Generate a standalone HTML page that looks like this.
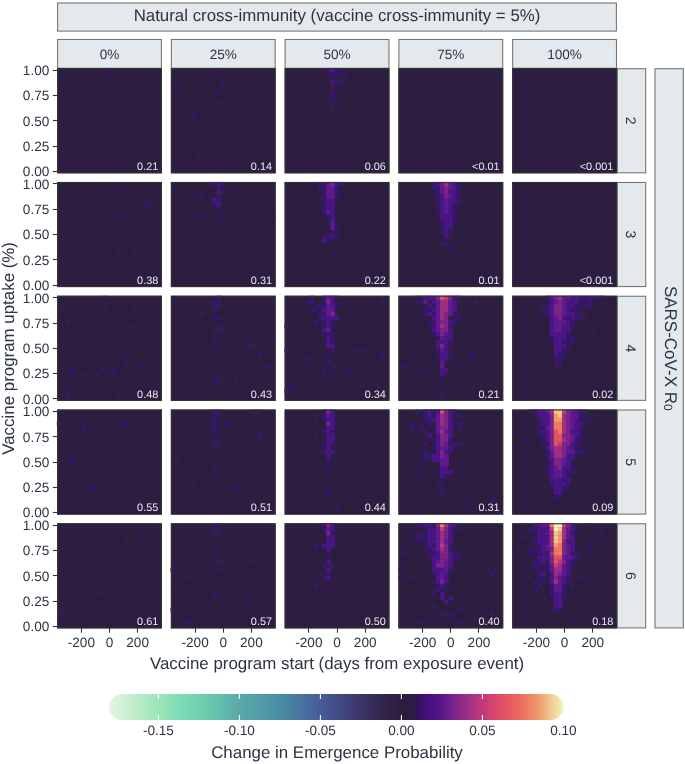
<!DOCTYPE html><html><head><meta charset="utf-8"><style>html,body{margin:0;padding:0;background:#fff;overflow:hidden;}svg{display:block;will-change:transform;}text{font-family:"Liberation Sans",sans-serif;text-rendering:geometricPrecision;}</style></head><body>
<svg width="685" height="764" viewBox="0 0 685 764">
<rect x="0" y="0" width="685" height="764" fill="#fff"/>
<rect x="57.6" y="3.0" width="558.8" height="28.1" fill="#e4e9ee" stroke="#737373" stroke-width="1.07"/>
<text x="337" y="21.2" font-size="16.85" fill="#2b3441" text-anchor="middle">Natural cross-immunity (vaccine cross-immunity = 5%)</text>
<rect x="57.60" y="39.5" width="103.80" height="28.70" fill="#e4e9ee" stroke="#737373" stroke-width="1.07"/>
<text x="109.50" y="59.0" font-size="13.6" fill="#2b3441" text-anchor="middle">0%</text>
<rect x="171.37" y="39.5" width="103.80" height="28.70" fill="#e4e9ee" stroke="#737373" stroke-width="1.07"/>
<text x="223.27" y="59.0" font-size="13.6" fill="#2b3441" text-anchor="middle">25%</text>
<rect x="285.14" y="39.5" width="103.80" height="28.70" fill="#e4e9ee" stroke="#737373" stroke-width="1.07"/>
<text x="337.04" y="59.0" font-size="13.6" fill="#2b3441" text-anchor="middle">50%</text>
<rect x="398.91" y="39.5" width="103.80" height="28.70" fill="#e4e9ee" stroke="#737373" stroke-width="1.07"/>
<text x="450.81" y="59.0" font-size="13.6" fill="#2b3441" text-anchor="middle">75%</text>
<rect x="512.68" y="39.5" width="103.80" height="28.70" fill="#e4e9ee" stroke="#737373" stroke-width="1.07"/>
<text x="564.58" y="59.0" font-size="13.6" fill="#2b3441" text-anchor="middle">100%</text>
<rect x="617.4" y="68.70" width="28.3" height="104.10" fill="#e4e9ee" stroke="#737373" stroke-width="1.07"/>
<text x="626.30" y="120.75" font-size="14" fill="#2b3441" text-anchor="middle" transform="rotate(90 626.30 120.75)">2</text>
<rect x="617.4" y="182.47" width="28.3" height="104.10" fill="#e4e9ee" stroke="#737373" stroke-width="1.07"/>
<text x="626.30" y="234.52" font-size="14" fill="#2b3441" text-anchor="middle" transform="rotate(90 626.30 234.52)">3</text>
<rect x="617.4" y="296.24" width="28.3" height="104.10" fill="#e4e9ee" stroke="#737373" stroke-width="1.07"/>
<text x="626.30" y="348.29" font-size="14" fill="#2b3441" text-anchor="middle" transform="rotate(90 626.30 348.29)">4</text>
<rect x="617.4" y="410.01" width="28.3" height="104.10" fill="#e4e9ee" stroke="#737373" stroke-width="1.07"/>
<text x="626.30" y="462.06" font-size="14" fill="#2b3441" text-anchor="middle" transform="rotate(90 626.30 462.06)">5</text>
<rect x="617.4" y="523.78" width="28.3" height="104.10" fill="#e4e9ee" stroke="#737373" stroke-width="1.07"/>
<text x="626.30" y="575.83" font-size="14" fill="#2b3441" text-anchor="middle" transform="rotate(90 626.30 575.83)">6</text>
<rect x="655.0" y="68.70" width="28.3" height="559.18" fill="#e4e9ee" stroke="#737373" stroke-width="1.07"/>
<text x="664.90" y="348.29" font-size="17" fill="#2b3441" text-anchor="middle" transform="rotate(90 664.90 348.29)">SARS-CoV-X R<tspan font-size="12" dy="0.6">0</tspan></text>
<rect x="57.10" y="68.20" width="104.8" height="105.1" fill="#2d1d40"/>
<rect x="107.08" y="68.20" width="4.54" height="4.38" fill="#36186a"/>
<rect x="102.89" y="88.35" width="4.54" height="4.38" fill="#30204a"/>
<rect x="148.98" y="96.41" width="4.54" height="4.38" fill="#30204a"/>
<rect x="77.75" y="100.44" width="4.54" height="4.38" fill="#30204a"/>
<rect x="107.08" y="104.47" width="4.54" height="4.38" fill="#30204a"/>
<rect x="102.89" y="152.83" width="4.54" height="4.38" fill="#30204a"/>
<rect x="57.60" y="68.70" width="103.8" height="104.1" fill="none" stroke="#333333" stroke-width="1.07"/>
<text x="158.30" y="170.00" font-size="10.9" fill="#e8e8ee" text-anchor="end">0.21</text>
<rect x="170.87" y="68.20" width="104.8" height="105.1" fill="#2d1d40"/>
<rect x="216.66" y="68.20" width="4.54" height="4.38" fill="#36186a"/>
<rect x="216.66" y="72.23" width="4.54" height="4.38" fill="#30204a"/>
<rect x="229.23" y="72.23" width="4.54" height="4.38" fill="#30204a"/>
<rect x="220.85" y="80.29" width="4.54" height="4.38" fill="#36186a"/>
<rect x="174.76" y="84.32" width="4.54" height="4.38" fill="#36186a"/>
<rect x="216.66" y="88.35" width="4.54" height="4.38" fill="#36186a"/>
<rect x="216.66" y="100.44" width="4.54" height="4.38" fill="#30204a"/>
<rect x="191.52" y="112.53" width="4.54" height="4.38" fill="#36186a"/>
<rect x="216.66" y="136.71" width="4.54" height="4.38" fill="#30204a"/>
<rect x="195.71" y="152.83" width="4.54" height="4.38" fill="#30204a"/>
<rect x="171.37" y="68.70" width="103.8" height="104.1" fill="none" stroke="#333333" stroke-width="1.07"/>
<text x="272.07" y="170.00" font-size="10.9" fill="#e8e8ee" text-anchor="end">0.14</text>
<rect x="284.64" y="68.20" width="104.8" height="105.1" fill="#2d1d40"/>
<rect x="326.24" y="68.20" width="4.54" height="4.38" fill="#36186a"/>
<rect x="330.43" y="68.20" width="4.54" height="4.38" fill="#4a1585"/>
<rect x="334.62" y="68.20" width="4.54" height="4.38" fill="#36186a"/>
<rect x="326.24" y="72.23" width="4.54" height="4.38" fill="#30204a"/>
<rect x="330.43" y="72.23" width="4.54" height="4.38" fill="#36186a"/>
<rect x="334.62" y="72.23" width="4.54" height="4.38" fill="#36186a"/>
<rect x="338.81" y="72.23" width="4.54" height="4.38" fill="#36186a"/>
<rect x="343.00" y="72.23" width="4.54" height="4.38" fill="#36186a"/>
<rect x="330.43" y="76.26" width="4.54" height="4.38" fill="#36186a"/>
<rect x="334.62" y="76.26" width="4.54" height="4.38" fill="#30204a"/>
<rect x="330.43" y="80.29" width="4.54" height="4.38" fill="#4a1585"/>
<rect x="334.62" y="80.29" width="4.54" height="4.38" fill="#36186a"/>
<rect x="338.81" y="80.29" width="4.54" height="4.38" fill="#30204a"/>
<rect x="330.43" y="84.32" width="4.54" height="4.38" fill="#30204a"/>
<rect x="330.43" y="88.35" width="4.54" height="4.38" fill="#36186a"/>
<rect x="330.43" y="92.38" width="4.54" height="4.38" fill="#36186a"/>
<rect x="326.24" y="96.41" width="4.54" height="4.38" fill="#30204a"/>
<rect x="330.43" y="96.41" width="4.54" height="4.38" fill="#36186a"/>
<rect x="330.43" y="100.44" width="4.54" height="4.38" fill="#30204a"/>
<rect x="334.62" y="100.44" width="4.54" height="4.38" fill="#36186a"/>
<rect x="330.43" y="104.47" width="4.54" height="4.38" fill="#30204a"/>
<rect x="330.43" y="108.50" width="4.54" height="4.38" fill="#30204a"/>
<rect x="330.43" y="112.53" width="4.54" height="4.38" fill="#30204a"/>
<rect x="285.14" y="68.70" width="103.8" height="104.1" fill="none" stroke="#333333" stroke-width="1.07"/>
<text x="385.84" y="170.00" font-size="10.9" fill="#e8e8ee" text-anchor="end">0.06</text>
<rect x="398.41" y="68.20" width="104.8" height="105.1" fill="#2d1d40"/>
<rect x="398.91" y="68.70" width="103.8" height="104.1" fill="none" stroke="#333333" stroke-width="1.07"/>
<text x="499.61" y="170.00" font-size="10.9" fill="#e8e8ee" text-anchor="end">&lt;0.01</text>
<rect x="512.18" y="68.20" width="104.8" height="105.1" fill="#2d1d40"/>
<rect x="512.68" y="68.70" width="103.8" height="104.1" fill="none" stroke="#333333" stroke-width="1.07"/>
<text x="613.38" y="170.00" font-size="10.9" fill="#e8e8ee" text-anchor="end">&lt;0.001</text>
<rect x="57.10" y="181.97" width="104.8" height="105.1" fill="#2d1d40"/>
<rect x="107.08" y="190.03" width="4.54" height="4.38" fill="#30204a"/>
<rect x="119.65" y="190.03" width="4.54" height="4.38" fill="#36186a"/>
<rect x="148.98" y="190.03" width="4.54" height="4.38" fill="#30204a"/>
<rect x="140.60" y="198.09" width="4.54" height="4.38" fill="#30204a"/>
<rect x="144.79" y="202.12" width="4.54" height="4.38" fill="#36186a"/>
<rect x="107.08" y="206.15" width="4.54" height="4.38" fill="#30204a"/>
<rect x="119.65" y="214.21" width="4.54" height="4.38" fill="#36186a"/>
<rect x="115.46" y="250.48" width="4.54" height="4.38" fill="#30204a"/>
<rect x="132.22" y="250.48" width="4.54" height="4.38" fill="#30204a"/>
<rect x="57.60" y="182.47" width="103.8" height="104.1" fill="none" stroke="#333333" stroke-width="1.07"/>
<text x="158.30" y="283.77" font-size="10.9" fill="#e8e8ee" text-anchor="end">0.38</text>
<rect x="170.87" y="181.97" width="104.8" height="105.1" fill="#2d1d40"/>
<rect x="208.28" y="181.97" width="4.54" height="4.38" fill="#36186a"/>
<rect x="212.47" y="181.97" width="4.54" height="4.38" fill="#36186a"/>
<rect x="216.66" y="181.97" width="4.54" height="4.38" fill="#4a1585"/>
<rect x="220.85" y="181.97" width="4.54" height="4.38" fill="#36186a"/>
<rect x="216.66" y="186.00" width="4.54" height="4.38" fill="#36186a"/>
<rect x="216.66" y="190.03" width="4.54" height="4.38" fill="#4a1585"/>
<rect x="220.85" y="190.03" width="4.54" height="4.38" fill="#30204a"/>
<rect x="199.90" y="194.06" width="4.54" height="4.38" fill="#36186a"/>
<rect x="216.66" y="194.06" width="4.54" height="4.38" fill="#30204a"/>
<rect x="212.47" y="198.09" width="4.54" height="4.38" fill="#4a1585"/>
<rect x="216.66" y="198.09" width="4.54" height="4.38" fill="#36186a"/>
<rect x="212.47" y="202.12" width="4.54" height="4.38" fill="#36186a"/>
<rect x="216.66" y="202.12" width="4.54" height="4.38" fill="#4a1585"/>
<rect x="216.66" y="206.15" width="4.54" height="4.38" fill="#36186a"/>
<rect x="195.71" y="214.21" width="4.54" height="4.38" fill="#36186a"/>
<rect x="271.13" y="214.21" width="4.54" height="4.38" fill="#30204a"/>
<rect x="216.66" y="218.24" width="4.54" height="4.38" fill="#36186a"/>
<rect x="212.47" y="226.30" width="4.54" height="4.38" fill="#30204a"/>
<rect x="216.66" y="226.30" width="4.54" height="4.38" fill="#30204a"/>
<rect x="212.47" y="250.48" width="4.54" height="4.38" fill="#30204a"/>
<rect x="171.37" y="182.47" width="103.8" height="104.1" fill="none" stroke="#333333" stroke-width="1.07"/>
<text x="272.07" y="283.77" font-size="10.9" fill="#e8e8ee" text-anchor="end">0.31</text>
<rect x="284.64" y="181.97" width="104.8" height="105.1" fill="#2d1d40"/>
<rect x="317.86" y="181.97" width="4.54" height="4.38" fill="#36186a"/>
<rect x="322.05" y="181.97" width="4.54" height="4.38" fill="#36186a"/>
<rect x="326.24" y="181.97" width="4.54" height="4.38" fill="#5e1a8e"/>
<rect x="330.43" y="181.97" width="4.54" height="4.38" fill="#7c2489"/>
<rect x="334.62" y="181.97" width="4.54" height="4.38" fill="#4a1585"/>
<rect x="338.81" y="181.97" width="4.54" height="4.38" fill="#36186a"/>
<rect x="317.86" y="186.00" width="4.54" height="4.38" fill="#36186a"/>
<rect x="322.05" y="186.00" width="4.54" height="4.38" fill="#36186a"/>
<rect x="326.24" y="186.00" width="4.54" height="4.38" fill="#5e1a8e"/>
<rect x="330.43" y="186.00" width="4.54" height="4.38" fill="#5e1a8e"/>
<rect x="334.62" y="186.00" width="4.54" height="4.38" fill="#36186a"/>
<rect x="322.05" y="190.03" width="4.54" height="4.38" fill="#36186a"/>
<rect x="326.24" y="190.03" width="4.54" height="4.38" fill="#5e1a8e"/>
<rect x="330.43" y="190.03" width="4.54" height="4.38" fill="#5e1a8e"/>
<rect x="334.62" y="190.03" width="4.54" height="4.38" fill="#36186a"/>
<rect x="351.38" y="190.03" width="4.54" height="4.38" fill="#30204a"/>
<rect x="322.05" y="194.06" width="4.54" height="4.38" fill="#36186a"/>
<rect x="326.24" y="194.06" width="4.54" height="4.38" fill="#5e1a8e"/>
<rect x="330.43" y="194.06" width="4.54" height="4.38" fill="#5e1a8e"/>
<rect x="334.62" y="194.06" width="4.54" height="4.38" fill="#36186a"/>
<rect x="317.86" y="198.09" width="4.54" height="4.38" fill="#36186a"/>
<rect x="322.05" y="198.09" width="4.54" height="4.38" fill="#36186a"/>
<rect x="326.24" y="198.09" width="4.54" height="4.38" fill="#4a1585"/>
<rect x="330.43" y="198.09" width="4.54" height="4.38" fill="#4a1585"/>
<rect x="322.05" y="202.12" width="4.54" height="4.38" fill="#36186a"/>
<rect x="326.24" y="202.12" width="4.54" height="4.38" fill="#4a1585"/>
<rect x="330.43" y="202.12" width="4.54" height="4.38" fill="#4a1585"/>
<rect x="322.05" y="206.15" width="4.54" height="4.38" fill="#36186a"/>
<rect x="326.24" y="206.15" width="4.54" height="4.38" fill="#4a1585"/>
<rect x="330.43" y="206.15" width="4.54" height="4.38" fill="#4a1585"/>
<rect x="322.05" y="210.18" width="4.54" height="4.38" fill="#36186a"/>
<rect x="326.24" y="210.18" width="4.54" height="4.38" fill="#5e1a8e"/>
<rect x="330.43" y="210.18" width="4.54" height="4.38" fill="#4a1585"/>
<rect x="326.24" y="214.21" width="4.54" height="4.38" fill="#36186a"/>
<rect x="330.43" y="214.21" width="4.54" height="4.38" fill="#4a1585"/>
<rect x="326.24" y="218.24" width="4.54" height="4.38" fill="#36186a"/>
<rect x="330.43" y="218.24" width="4.54" height="4.38" fill="#4a1585"/>
<rect x="330.43" y="222.27" width="4.54" height="4.38" fill="#5e1a8e"/>
<rect x="334.62" y="222.27" width="4.54" height="4.38" fill="#36186a"/>
<rect x="330.43" y="226.30" width="4.54" height="4.38" fill="#5e1a8e"/>
<rect x="334.62" y="226.30" width="4.54" height="4.38" fill="#36186a"/>
<rect x="288.53" y="230.33" width="4.54" height="4.38" fill="#30204a"/>
<rect x="330.43" y="230.33" width="4.54" height="4.38" fill="#36186a"/>
<rect x="322.05" y="234.36" width="4.54" height="4.38" fill="#36186a"/>
<rect x="326.24" y="234.36" width="4.54" height="4.38" fill="#36186a"/>
<rect x="330.43" y="234.36" width="4.54" height="4.38" fill="#4a1585"/>
<rect x="334.62" y="234.36" width="4.54" height="4.38" fill="#36186a"/>
<rect x="322.05" y="238.39" width="4.54" height="4.38" fill="#4a1585"/>
<rect x="326.24" y="238.39" width="4.54" height="4.38" fill="#36186a"/>
<rect x="334.62" y="250.48" width="4.54" height="4.38" fill="#30204a"/>
<rect x="317.86" y="254.51" width="4.54" height="4.38" fill="#30204a"/>
<rect x="330.43" y="262.57" width="4.54" height="4.38" fill="#30204a"/>
<rect x="285.14" y="182.47" width="103.8" height="104.1" fill="none" stroke="#333333" stroke-width="1.07"/>
<text x="385.84" y="283.77" font-size="10.9" fill="#e8e8ee" text-anchor="end">0.22</text>
<rect x="398.41" y="181.97" width="104.8" height="105.1" fill="#2d1d40"/>
<rect x="431.63" y="181.97" width="4.54" height="4.38" fill="#36186a"/>
<rect x="435.82" y="181.97" width="4.54" height="4.38" fill="#4a1585"/>
<rect x="440.01" y="181.97" width="4.54" height="4.38" fill="#5e1a8e"/>
<rect x="444.20" y="181.97" width="4.54" height="4.38" fill="#9d2f84"/>
<rect x="448.39" y="181.97" width="4.54" height="4.38" fill="#5e1a8e"/>
<rect x="452.58" y="181.97" width="4.54" height="4.38" fill="#4a1585"/>
<rect x="431.63" y="186.00" width="4.54" height="4.38" fill="#36186a"/>
<rect x="435.82" y="186.00" width="4.54" height="4.38" fill="#36186a"/>
<rect x="440.01" y="186.00" width="4.54" height="4.38" fill="#5e1a8e"/>
<rect x="444.20" y="186.00" width="4.54" height="4.38" fill="#7c2489"/>
<rect x="448.39" y="186.00" width="4.54" height="4.38" fill="#5e1a8e"/>
<rect x="452.58" y="186.00" width="4.54" height="4.38" fill="#4a1585"/>
<rect x="456.77" y="186.00" width="4.54" height="4.38" fill="#36186a"/>
<rect x="469.34" y="186.00" width="4.54" height="4.38" fill="#30204a"/>
<rect x="435.82" y="190.03" width="4.54" height="4.38" fill="#36186a"/>
<rect x="440.01" y="190.03" width="4.54" height="4.38" fill="#5e1a8e"/>
<rect x="444.20" y="190.03" width="4.54" height="4.38" fill="#7c2489"/>
<rect x="448.39" y="190.03" width="4.54" height="4.38" fill="#4a1585"/>
<rect x="452.58" y="190.03" width="4.54" height="4.38" fill="#4a1585"/>
<rect x="456.77" y="190.03" width="4.54" height="4.38" fill="#36186a"/>
<rect x="435.82" y="194.06" width="4.54" height="4.38" fill="#36186a"/>
<rect x="440.01" y="194.06" width="4.54" height="4.38" fill="#4a1585"/>
<rect x="444.20" y="194.06" width="4.54" height="4.38" fill="#7c2489"/>
<rect x="448.39" y="194.06" width="4.54" height="4.38" fill="#5e1a8e"/>
<rect x="452.58" y="194.06" width="4.54" height="4.38" fill="#4a1585"/>
<rect x="456.77" y="194.06" width="4.54" height="4.38" fill="#36186a"/>
<rect x="435.82" y="198.09" width="4.54" height="4.38" fill="#36186a"/>
<rect x="440.01" y="198.09" width="4.54" height="4.38" fill="#4a1585"/>
<rect x="444.20" y="198.09" width="4.54" height="4.38" fill="#5e1a8e"/>
<rect x="448.39" y="198.09" width="4.54" height="4.38" fill="#4a1585"/>
<rect x="452.58" y="198.09" width="4.54" height="4.38" fill="#4a1585"/>
<rect x="456.77" y="198.09" width="4.54" height="4.38" fill="#36186a"/>
<rect x="435.82" y="202.12" width="4.54" height="4.38" fill="#36186a"/>
<rect x="440.01" y="202.12" width="4.54" height="4.38" fill="#4a1585"/>
<rect x="444.20" y="202.12" width="4.54" height="4.38" fill="#5e1a8e"/>
<rect x="448.39" y="202.12" width="4.54" height="4.38" fill="#4a1585"/>
<rect x="452.58" y="202.12" width="4.54" height="4.38" fill="#36186a"/>
<rect x="440.01" y="206.15" width="4.54" height="4.38" fill="#4a1585"/>
<rect x="444.20" y="206.15" width="4.54" height="4.38" fill="#5e1a8e"/>
<rect x="448.39" y="206.15" width="4.54" height="4.38" fill="#4a1585"/>
<rect x="452.58" y="206.15" width="4.54" height="4.38" fill="#36186a"/>
<rect x="435.82" y="210.18" width="4.54" height="4.38" fill="#36186a"/>
<rect x="440.01" y="210.18" width="4.54" height="4.38" fill="#4a1585"/>
<rect x="444.20" y="210.18" width="4.54" height="4.38" fill="#5e1a8e"/>
<rect x="448.39" y="210.18" width="4.54" height="4.38" fill="#4a1585"/>
<rect x="452.58" y="210.18" width="4.54" height="4.38" fill="#36186a"/>
<rect x="440.01" y="214.21" width="4.54" height="4.38" fill="#4a1585"/>
<rect x="444.20" y="214.21" width="4.54" height="4.38" fill="#4a1585"/>
<rect x="448.39" y="214.21" width="4.54" height="4.38" fill="#4a1585"/>
<rect x="452.58" y="214.21" width="4.54" height="4.38" fill="#36186a"/>
<rect x="440.01" y="218.24" width="4.54" height="4.38" fill="#4a1585"/>
<rect x="444.20" y="218.24" width="4.54" height="4.38" fill="#4a1585"/>
<rect x="448.39" y="218.24" width="4.54" height="4.38" fill="#4a1585"/>
<rect x="452.58" y="218.24" width="4.54" height="4.38" fill="#36186a"/>
<rect x="440.01" y="222.27" width="4.54" height="4.38" fill="#36186a"/>
<rect x="444.20" y="222.27" width="4.54" height="4.38" fill="#4a1585"/>
<rect x="448.39" y="222.27" width="4.54" height="4.38" fill="#4a1585"/>
<rect x="440.01" y="226.30" width="4.54" height="4.38" fill="#36186a"/>
<rect x="444.20" y="226.30" width="4.54" height="4.38" fill="#4a1585"/>
<rect x="448.39" y="226.30" width="4.54" height="4.38" fill="#36186a"/>
<rect x="440.01" y="230.33" width="4.54" height="4.38" fill="#36186a"/>
<rect x="444.20" y="230.33" width="4.54" height="4.38" fill="#4a1585"/>
<rect x="448.39" y="230.33" width="4.54" height="4.38" fill="#36186a"/>
<rect x="444.20" y="234.36" width="4.54" height="4.38" fill="#4a1585"/>
<rect x="444.20" y="238.39" width="4.54" height="4.38" fill="#36186a"/>
<rect x="440.01" y="242.42" width="4.54" height="4.38" fill="#30204a"/>
<rect x="444.20" y="242.42" width="4.54" height="4.38" fill="#30204a"/>
<rect x="448.39" y="246.45" width="4.54" height="4.38" fill="#36186a"/>
<rect x="398.91" y="182.47" width="103.8" height="104.1" fill="none" stroke="#333333" stroke-width="1.07"/>
<text x="499.61" y="283.77" font-size="10.9" fill="#e8e8ee" text-anchor="end">0.01</text>
<rect x="512.18" y="181.97" width="104.8" height="105.1" fill="#2d1d40"/>
<rect x="512.68" y="182.47" width="103.8" height="104.1" fill="none" stroke="#333333" stroke-width="1.07"/>
<text x="613.38" y="283.77" font-size="10.9" fill="#e8e8ee" text-anchor="end">&lt;0.001</text>
<rect x="57.10" y="295.74" width="104.8" height="105.1" fill="#2d1d40"/>
<rect x="102.89" y="295.74" width="4.54" height="4.38" fill="#36186a"/>
<rect x="60.99" y="307.83" width="4.54" height="4.38" fill="#30204a"/>
<rect x="86.13" y="307.83" width="4.54" height="4.38" fill="#30204a"/>
<rect x="102.89" y="307.83" width="4.54" height="4.38" fill="#30204a"/>
<rect x="132.22" y="307.83" width="4.54" height="4.38" fill="#30204a"/>
<rect x="65.18" y="319.92" width="4.54" height="4.38" fill="#30204a"/>
<rect x="128.03" y="323.95" width="4.54" height="4.38" fill="#30204a"/>
<rect x="123.84" y="360.22" width="4.54" height="4.38" fill="#36186a"/>
<rect x="140.60" y="364.25" width="4.54" height="4.38" fill="#36186a"/>
<rect x="69.37" y="368.28" width="4.54" height="4.38" fill="#36186a"/>
<rect x="102.89" y="368.28" width="4.54" height="4.38" fill="#36186a"/>
<rect x="111.27" y="368.28" width="4.54" height="4.38" fill="#36186a"/>
<rect x="153.17" y="368.28" width="4.54" height="4.38" fill="#30204a"/>
<rect x="81.94" y="372.31" width="4.54" height="4.38" fill="#30204a"/>
<rect x="94.51" y="372.31" width="4.54" height="4.38" fill="#30204a"/>
<rect x="65.18" y="392.46" width="4.54" height="4.38" fill="#36186a"/>
<rect x="115.46" y="392.46" width="4.54" height="4.38" fill="#30204a"/>
<rect x="57.60" y="296.24" width="103.8" height="104.1" fill="none" stroke="#333333" stroke-width="1.07"/>
<text x="158.30" y="397.54" font-size="10.9" fill="#e8e8ee" text-anchor="end">0.48</text>
<rect x="170.87" y="295.74" width="104.8" height="105.1" fill="#2d1d40"/>
<rect x="216.66" y="295.74" width="4.54" height="4.38" fill="#36186a"/>
<rect x="208.28" y="299.77" width="4.54" height="4.38" fill="#30204a"/>
<rect x="212.47" y="299.77" width="4.54" height="4.38" fill="#36186a"/>
<rect x="216.66" y="299.77" width="4.54" height="4.38" fill="#30204a"/>
<rect x="212.47" y="303.80" width="4.54" height="4.38" fill="#36186a"/>
<rect x="216.66" y="303.80" width="4.54" height="4.38" fill="#30204a"/>
<rect x="212.47" y="307.83" width="4.54" height="4.38" fill="#36186a"/>
<rect x="199.90" y="311.86" width="4.54" height="4.38" fill="#30204a"/>
<rect x="212.47" y="315.89" width="4.54" height="4.38" fill="#36186a"/>
<rect x="216.66" y="315.89" width="4.54" height="4.38" fill="#36186a"/>
<rect x="216.66" y="323.95" width="4.54" height="4.38" fill="#30204a"/>
<rect x="212.47" y="327.98" width="4.54" height="4.38" fill="#30204a"/>
<rect x="216.66" y="327.98" width="4.54" height="4.38" fill="#36186a"/>
<rect x="212.47" y="336.04" width="4.54" height="4.38" fill="#36186a"/>
<rect x="216.66" y="344.10" width="4.54" height="4.38" fill="#36186a"/>
<rect x="245.99" y="344.10" width="4.54" height="4.38" fill="#36186a"/>
<rect x="250.18" y="344.10" width="4.54" height="4.38" fill="#30204a"/>
<rect x="212.47" y="352.16" width="4.54" height="4.38" fill="#30204a"/>
<rect x="258.56" y="352.16" width="4.54" height="4.38" fill="#36186a"/>
<rect x="266.94" y="364.25" width="4.54" height="4.38" fill="#36186a"/>
<rect x="229.23" y="372.31" width="4.54" height="4.38" fill="#30204a"/>
<rect x="245.99" y="372.31" width="4.54" height="4.38" fill="#30204a"/>
<rect x="266.94" y="372.31" width="4.54" height="4.38" fill="#30204a"/>
<rect x="216.66" y="376.34" width="4.54" height="4.38" fill="#36186a"/>
<rect x="233.42" y="376.34" width="4.54" height="4.38" fill="#30204a"/>
<rect x="212.47" y="380.37" width="4.54" height="4.38" fill="#36186a"/>
<rect x="171.37" y="296.24" width="103.8" height="104.1" fill="none" stroke="#333333" stroke-width="1.07"/>
<text x="272.07" y="397.54" font-size="10.9" fill="#e8e8ee" text-anchor="end">0.43</text>
<rect x="284.64" y="295.74" width="104.8" height="105.1" fill="#2d1d40"/>
<rect x="309.48" y="295.74" width="4.54" height="4.38" fill="#36186a"/>
<rect x="322.05" y="295.74" width="4.54" height="4.38" fill="#36186a"/>
<rect x="326.24" y="295.74" width="4.54" height="4.38" fill="#5e1a8e"/>
<rect x="330.43" y="295.74" width="4.54" height="4.38" fill="#4a1585"/>
<rect x="334.62" y="295.74" width="4.54" height="4.38" fill="#36186a"/>
<rect x="305.29" y="299.77" width="4.54" height="4.38" fill="#36186a"/>
<rect x="309.48" y="299.77" width="4.54" height="4.38" fill="#36186a"/>
<rect x="322.05" y="299.77" width="4.54" height="4.38" fill="#36186a"/>
<rect x="326.24" y="299.77" width="4.54" height="4.38" fill="#7c2489"/>
<rect x="330.43" y="299.77" width="4.54" height="4.38" fill="#4a1585"/>
<rect x="380.71" y="299.77" width="4.54" height="4.38" fill="#30204a"/>
<rect x="317.86" y="303.80" width="4.54" height="4.38" fill="#36186a"/>
<rect x="322.05" y="303.80" width="4.54" height="4.38" fill="#36186a"/>
<rect x="326.24" y="303.80" width="4.54" height="4.38" fill="#5e1a8e"/>
<rect x="330.43" y="303.80" width="4.54" height="4.38" fill="#4a1585"/>
<rect x="334.62" y="303.80" width="4.54" height="4.38" fill="#36186a"/>
<rect x="309.48" y="307.83" width="4.54" height="4.38" fill="#36186a"/>
<rect x="313.67" y="307.83" width="4.54" height="4.38" fill="#36186a"/>
<rect x="322.05" y="307.83" width="4.54" height="4.38" fill="#4a1585"/>
<rect x="326.24" y="307.83" width="4.54" height="4.38" fill="#5e1a8e"/>
<rect x="330.43" y="307.83" width="4.54" height="4.38" fill="#5e1a8e"/>
<rect x="317.86" y="311.86" width="4.54" height="4.38" fill="#36186a"/>
<rect x="322.05" y="311.86" width="4.54" height="4.38" fill="#36186a"/>
<rect x="326.24" y="311.86" width="4.54" height="4.38" fill="#5e1a8e"/>
<rect x="330.43" y="311.86" width="4.54" height="4.38" fill="#7c2489"/>
<rect x="317.86" y="315.89" width="4.54" height="4.38" fill="#36186a"/>
<rect x="322.05" y="315.89" width="4.54" height="4.38" fill="#4a1585"/>
<rect x="326.24" y="315.89" width="4.54" height="4.38" fill="#4a1585"/>
<rect x="330.43" y="315.89" width="4.54" height="4.38" fill="#4a1585"/>
<rect x="334.62" y="315.89" width="4.54" height="4.38" fill="#4a1585"/>
<rect x="313.67" y="319.92" width="4.54" height="4.38" fill="#36186a"/>
<rect x="322.05" y="319.92" width="4.54" height="4.38" fill="#36186a"/>
<rect x="326.24" y="319.92" width="4.54" height="4.38" fill="#4a1585"/>
<rect x="330.43" y="319.92" width="4.54" height="4.38" fill="#36186a"/>
<rect x="284.34" y="323.95" width="4.54" height="4.38" fill="#36186a"/>
<rect x="322.05" y="323.95" width="4.54" height="4.38" fill="#36186a"/>
<rect x="326.24" y="323.95" width="4.54" height="4.38" fill="#4a1585"/>
<rect x="330.43" y="323.95" width="4.54" height="4.38" fill="#36186a"/>
<rect x="322.05" y="327.98" width="4.54" height="4.38" fill="#4a1585"/>
<rect x="326.24" y="327.98" width="4.54" height="4.38" fill="#5e1a8e"/>
<rect x="317.86" y="332.01" width="4.54" height="4.38" fill="#30204a"/>
<rect x="322.05" y="332.01" width="4.54" height="4.38" fill="#36186a"/>
<rect x="326.24" y="332.01" width="4.54" height="4.38" fill="#36186a"/>
<rect x="330.43" y="332.01" width="4.54" height="4.38" fill="#36186a"/>
<rect x="322.05" y="336.04" width="4.54" height="4.38" fill="#30204a"/>
<rect x="326.24" y="336.04" width="4.54" height="4.38" fill="#4a1585"/>
<rect x="330.43" y="336.04" width="4.54" height="4.38" fill="#36186a"/>
<rect x="326.24" y="340.07" width="4.54" height="4.38" fill="#4a1585"/>
<rect x="330.43" y="340.07" width="4.54" height="4.38" fill="#36186a"/>
<rect x="305.29" y="344.10" width="4.54" height="4.38" fill="#30204a"/>
<rect x="326.24" y="344.10" width="4.54" height="4.38" fill="#4a1585"/>
<rect x="330.43" y="344.10" width="4.54" height="4.38" fill="#4a1585"/>
<rect x="284.34" y="348.13" width="4.54" height="4.38" fill="#36186a"/>
<rect x="330.43" y="348.13" width="4.54" height="4.38" fill="#36186a"/>
<rect x="355.57" y="348.13" width="4.54" height="4.38" fill="#36186a"/>
<rect x="359.76" y="348.13" width="4.54" height="4.38" fill="#30204a"/>
<rect x="326.24" y="352.16" width="4.54" height="4.38" fill="#36186a"/>
<rect x="334.62" y="352.16" width="4.54" height="4.38" fill="#30204a"/>
<rect x="380.71" y="352.16" width="4.54" height="4.38" fill="#36186a"/>
<rect x="305.29" y="356.19" width="4.54" height="4.38" fill="#36186a"/>
<rect x="326.24" y="360.22" width="4.54" height="4.38" fill="#36186a"/>
<rect x="380.71" y="360.22" width="4.54" height="4.38" fill="#30204a"/>
<rect x="330.43" y="364.25" width="4.54" height="4.38" fill="#30204a"/>
<rect x="322.05" y="368.28" width="4.54" height="4.38" fill="#36186a"/>
<rect x="330.43" y="368.28" width="4.54" height="4.38" fill="#36186a"/>
<rect x="347.19" y="368.28" width="4.54" height="4.38" fill="#36186a"/>
<rect x="326.24" y="376.34" width="4.54" height="4.38" fill="#36186a"/>
<rect x="288.53" y="384.40" width="4.54" height="4.38" fill="#36186a"/>
<rect x="376.52" y="384.40" width="4.54" height="4.38" fill="#30204a"/>
<rect x="284.34" y="388.43" width="4.54" height="4.38" fill="#30204a"/>
<rect x="285.14" y="296.24" width="103.8" height="104.1" fill="none" stroke="#333333" stroke-width="1.07"/>
<text x="385.84" y="397.54" font-size="10.9" fill="#e8e8ee" text-anchor="end">0.34</text>
<rect x="398.41" y="295.74" width="104.8" height="105.1" fill="#2d1d40"/>
<rect x="414.87" y="295.74" width="4.54" height="4.38" fill="#30204a"/>
<rect x="419.06" y="295.74" width="4.54" height="4.38" fill="#30204a"/>
<rect x="423.25" y="295.74" width="4.54" height="4.38" fill="#4a1585"/>
<rect x="427.44" y="295.74" width="4.54" height="4.38" fill="#4a1585"/>
<rect x="431.63" y="295.74" width="4.54" height="4.38" fill="#4a1585"/>
<rect x="435.82" y="295.74" width="4.54" height="4.38" fill="#7c2489"/>
<rect x="440.01" y="295.74" width="4.54" height="4.38" fill="#e05266"/>
<rect x="444.20" y="295.74" width="4.54" height="4.38" fill="#c23c78"/>
<rect x="448.39" y="295.74" width="4.54" height="4.38" fill="#7c2489"/>
<rect x="452.58" y="295.74" width="4.54" height="4.38" fill="#36186a"/>
<rect x="456.77" y="295.74" width="4.54" height="4.38" fill="#36186a"/>
<rect x="414.87" y="299.77" width="4.54" height="4.38" fill="#36186a"/>
<rect x="419.06" y="299.77" width="4.54" height="4.38" fill="#36186a"/>
<rect x="423.25" y="299.77" width="4.54" height="4.38" fill="#5e1a8e"/>
<rect x="427.44" y="299.77" width="4.54" height="4.38" fill="#30204a"/>
<rect x="431.63" y="299.77" width="4.54" height="4.38" fill="#4a1585"/>
<rect x="435.82" y="299.77" width="4.54" height="4.38" fill="#5e1a8e"/>
<rect x="440.01" y="299.77" width="4.54" height="4.38" fill="#9d2f84"/>
<rect x="444.20" y="299.77" width="4.54" height="4.38" fill="#9d2f84"/>
<rect x="448.39" y="299.77" width="4.54" height="4.38" fill="#5e1a8e"/>
<rect x="452.58" y="299.77" width="4.54" height="4.38" fill="#4a1585"/>
<rect x="456.77" y="299.77" width="4.54" height="4.38" fill="#30204a"/>
<rect x="473.53" y="299.77" width="4.54" height="4.38" fill="#30204a"/>
<rect x="423.25" y="303.80" width="4.54" height="4.38" fill="#30204a"/>
<rect x="427.44" y="303.80" width="4.54" height="4.38" fill="#4a1585"/>
<rect x="431.63" y="303.80" width="4.54" height="4.38" fill="#36186a"/>
<rect x="435.82" y="303.80" width="4.54" height="4.38" fill="#5e1a8e"/>
<rect x="440.01" y="303.80" width="4.54" height="4.38" fill="#9d2f84"/>
<rect x="444.20" y="303.80" width="4.54" height="4.38" fill="#9d2f84"/>
<rect x="448.39" y="303.80" width="4.54" height="4.38" fill="#5e1a8e"/>
<rect x="452.58" y="303.80" width="4.54" height="4.38" fill="#4a1585"/>
<rect x="423.25" y="307.83" width="4.54" height="4.38" fill="#36186a"/>
<rect x="427.44" y="307.83" width="4.54" height="4.38" fill="#36186a"/>
<rect x="431.63" y="307.83" width="4.54" height="4.38" fill="#4a1585"/>
<rect x="435.82" y="307.83" width="4.54" height="4.38" fill="#5e1a8e"/>
<rect x="440.01" y="307.83" width="4.54" height="4.38" fill="#9d2f84"/>
<rect x="444.20" y="307.83" width="4.54" height="4.38" fill="#9d2f84"/>
<rect x="448.39" y="307.83" width="4.54" height="4.38" fill="#5e1a8e"/>
<rect x="452.58" y="307.83" width="4.54" height="4.38" fill="#4a1585"/>
<rect x="469.34" y="307.83" width="4.54" height="4.38" fill="#30204a"/>
<rect x="423.25" y="311.86" width="4.54" height="4.38" fill="#36186a"/>
<rect x="427.44" y="311.86" width="4.54" height="4.38" fill="#4a1585"/>
<rect x="431.63" y="311.86" width="4.54" height="4.38" fill="#36186a"/>
<rect x="435.82" y="311.86" width="4.54" height="4.38" fill="#5e1a8e"/>
<rect x="440.01" y="311.86" width="4.54" height="4.38" fill="#9d2f84"/>
<rect x="444.20" y="311.86" width="4.54" height="4.38" fill="#7c2489"/>
<rect x="448.39" y="311.86" width="4.54" height="4.38" fill="#5e1a8e"/>
<rect x="452.58" y="311.86" width="4.54" height="4.38" fill="#36186a"/>
<rect x="431.63" y="315.89" width="4.54" height="4.38" fill="#4a1585"/>
<rect x="435.82" y="315.89" width="4.54" height="4.38" fill="#5e1a8e"/>
<rect x="440.01" y="315.89" width="4.54" height="4.38" fill="#9d2f84"/>
<rect x="444.20" y="315.89" width="4.54" height="4.38" fill="#7c2489"/>
<rect x="448.39" y="315.89" width="4.54" height="4.38" fill="#30204a"/>
<rect x="452.58" y="315.89" width="4.54" height="4.38" fill="#30204a"/>
<rect x="456.77" y="315.89" width="4.54" height="4.38" fill="#36186a"/>
<rect x="427.44" y="319.92" width="4.54" height="4.38" fill="#36186a"/>
<rect x="431.63" y="319.92" width="4.54" height="4.38" fill="#36186a"/>
<rect x="435.82" y="319.92" width="4.54" height="4.38" fill="#5e1a8e"/>
<rect x="440.01" y="319.92" width="4.54" height="4.38" fill="#7c2489"/>
<rect x="444.20" y="319.92" width="4.54" height="4.38" fill="#7c2489"/>
<rect x="448.39" y="319.92" width="4.54" height="4.38" fill="#4a1585"/>
<rect x="452.58" y="319.92" width="4.54" height="4.38" fill="#36186a"/>
<rect x="431.63" y="323.95" width="4.54" height="4.38" fill="#36186a"/>
<rect x="435.82" y="323.95" width="4.54" height="4.38" fill="#5e1a8e"/>
<rect x="440.01" y="323.95" width="4.54" height="4.38" fill="#9d2f84"/>
<rect x="444.20" y="323.95" width="4.54" height="4.38" fill="#7c2489"/>
<rect x="448.39" y="323.95" width="4.54" height="4.38" fill="#36186a"/>
<rect x="431.63" y="327.98" width="4.54" height="4.38" fill="#4a1585"/>
<rect x="435.82" y="327.98" width="4.54" height="4.38" fill="#5e1a8e"/>
<rect x="440.01" y="327.98" width="4.54" height="4.38" fill="#7c2489"/>
<rect x="444.20" y="327.98" width="4.54" height="4.38" fill="#7c2489"/>
<rect x="448.39" y="327.98" width="4.54" height="4.38" fill="#4a1585"/>
<rect x="431.63" y="332.01" width="4.54" height="4.38" fill="#36186a"/>
<rect x="435.82" y="332.01" width="4.54" height="4.38" fill="#4a1585"/>
<rect x="440.01" y="332.01" width="4.54" height="4.38" fill="#7c2489"/>
<rect x="444.20" y="332.01" width="4.54" height="4.38" fill="#5e1a8e"/>
<rect x="448.39" y="332.01" width="4.54" height="4.38" fill="#4a1585"/>
<rect x="440.01" y="336.04" width="4.54" height="4.38" fill="#5e1a8e"/>
<rect x="444.20" y="336.04" width="4.54" height="4.38" fill="#4a1585"/>
<rect x="448.39" y="336.04" width="4.54" height="4.38" fill="#4a1585"/>
<rect x="435.82" y="340.07" width="4.54" height="4.38" fill="#4a1585"/>
<rect x="440.01" y="340.07" width="4.54" height="4.38" fill="#4a1585"/>
<rect x="444.20" y="340.07" width="4.54" height="4.38" fill="#4a1585"/>
<rect x="448.39" y="340.07" width="4.54" height="4.38" fill="#36186a"/>
<rect x="435.82" y="344.10" width="4.54" height="4.38" fill="#4a1585"/>
<rect x="440.01" y="344.10" width="4.54" height="4.38" fill="#7c2489"/>
<rect x="444.20" y="344.10" width="4.54" height="4.38" fill="#4a1585"/>
<rect x="435.82" y="348.13" width="4.54" height="4.38" fill="#36186a"/>
<rect x="440.01" y="348.13" width="4.54" height="4.38" fill="#5e1a8e"/>
<rect x="444.20" y="348.13" width="4.54" height="4.38" fill="#4a1585"/>
<rect x="448.39" y="348.13" width="4.54" height="4.38" fill="#30204a"/>
<rect x="435.82" y="352.16" width="4.54" height="4.38" fill="#36186a"/>
<rect x="440.01" y="352.16" width="4.54" height="4.38" fill="#4a1585"/>
<rect x="444.20" y="352.16" width="4.54" height="4.38" fill="#4a1585"/>
<rect x="469.34" y="352.16" width="4.54" height="4.38" fill="#36186a"/>
<rect x="440.01" y="356.19" width="4.54" height="4.38" fill="#4a1585"/>
<rect x="444.20" y="356.19" width="4.54" height="4.38" fill="#4a1585"/>
<rect x="448.39" y="356.19" width="4.54" height="4.38" fill="#36186a"/>
<rect x="440.01" y="360.22" width="4.54" height="4.38" fill="#5e1a8e"/>
<rect x="444.20" y="360.22" width="4.54" height="4.38" fill="#30204a"/>
<rect x="402.30" y="364.25" width="4.54" height="4.38" fill="#36186a"/>
<rect x="440.01" y="364.25" width="4.54" height="4.38" fill="#5e1a8e"/>
<rect x="419.06" y="368.28" width="4.54" height="4.38" fill="#36186a"/>
<rect x="440.01" y="368.28" width="4.54" height="4.38" fill="#4a1585"/>
<rect x="444.20" y="368.28" width="4.54" height="4.38" fill="#4a1585"/>
<rect x="435.82" y="372.31" width="4.54" height="4.38" fill="#30204a"/>
<rect x="440.01" y="372.31" width="4.54" height="4.38" fill="#4a1585"/>
<rect x="440.01" y="392.46" width="4.54" height="4.38" fill="#36186a"/>
<rect x="398.91" y="296.24" width="103.8" height="104.1" fill="none" stroke="#333333" stroke-width="1.07"/>
<text x="499.61" y="397.54" font-size="10.9" fill="#e8e8ee" text-anchor="end">0.21</text>
<rect x="512.18" y="295.74" width="104.8" height="105.1" fill="#2d1d40"/>
<rect x="545.40" y="295.74" width="4.54" height="4.38" fill="#36186a"/>
<rect x="549.59" y="295.74" width="4.54" height="4.38" fill="#4a1585"/>
<rect x="553.78" y="295.74" width="4.54" height="4.38" fill="#7c2489"/>
<rect x="557.97" y="295.74" width="4.54" height="4.38" fill="#9d2f84"/>
<rect x="562.16" y="295.74" width="4.54" height="4.38" fill="#5e1a8e"/>
<rect x="566.35" y="295.74" width="4.54" height="4.38" fill="#5e1a8e"/>
<rect x="570.54" y="295.74" width="4.54" height="4.38" fill="#4a1585"/>
<rect x="574.73" y="295.74" width="4.54" height="4.38" fill="#4a1585"/>
<rect x="578.92" y="295.74" width="4.54" height="4.38" fill="#36186a"/>
<rect x="583.11" y="295.74" width="4.54" height="4.38" fill="#36186a"/>
<rect x="587.30" y="295.74" width="4.54" height="4.38" fill="#4a1585"/>
<rect x="591.49" y="295.74" width="4.54" height="4.38" fill="#36186a"/>
<rect x="595.68" y="295.74" width="4.54" height="4.38" fill="#36186a"/>
<rect x="599.87" y="295.74" width="4.54" height="4.38" fill="#30204a"/>
<rect x="545.40" y="299.77" width="4.54" height="4.38" fill="#36186a"/>
<rect x="549.59" y="299.77" width="4.54" height="4.38" fill="#4a1585"/>
<rect x="553.78" y="299.77" width="4.54" height="4.38" fill="#5e1a8e"/>
<rect x="557.97" y="299.77" width="4.54" height="4.38" fill="#7c2489"/>
<rect x="562.16" y="299.77" width="4.54" height="4.38" fill="#5e1a8e"/>
<rect x="566.35" y="299.77" width="4.54" height="4.38" fill="#4a1585"/>
<rect x="570.54" y="299.77" width="4.54" height="4.38" fill="#4a1585"/>
<rect x="574.73" y="299.77" width="4.54" height="4.38" fill="#4a1585"/>
<rect x="578.92" y="299.77" width="4.54" height="4.38" fill="#36186a"/>
<rect x="583.11" y="299.77" width="4.54" height="4.38" fill="#36186a"/>
<rect x="587.30" y="299.77" width="4.54" height="4.38" fill="#36186a"/>
<rect x="541.21" y="303.80" width="4.54" height="4.38" fill="#30204a"/>
<rect x="545.40" y="303.80" width="4.54" height="4.38" fill="#36186a"/>
<rect x="549.59" y="303.80" width="4.54" height="4.38" fill="#4a1585"/>
<rect x="553.78" y="303.80" width="4.54" height="4.38" fill="#7c2489"/>
<rect x="557.97" y="303.80" width="4.54" height="4.38" fill="#7c2489"/>
<rect x="562.16" y="303.80" width="4.54" height="4.38" fill="#5e1a8e"/>
<rect x="566.35" y="303.80" width="4.54" height="4.38" fill="#4a1585"/>
<rect x="570.54" y="303.80" width="4.54" height="4.38" fill="#4a1585"/>
<rect x="574.73" y="303.80" width="4.54" height="4.38" fill="#36186a"/>
<rect x="578.92" y="303.80" width="4.54" height="4.38" fill="#36186a"/>
<rect x="583.11" y="303.80" width="4.54" height="4.38" fill="#30204a"/>
<rect x="587.30" y="303.80" width="4.54" height="4.38" fill="#36186a"/>
<rect x="541.21" y="307.83" width="4.54" height="4.38" fill="#36186a"/>
<rect x="545.40" y="307.83" width="4.54" height="4.38" fill="#36186a"/>
<rect x="549.59" y="307.83" width="4.54" height="4.38" fill="#4a1585"/>
<rect x="553.78" y="307.83" width="4.54" height="4.38" fill="#7c2489"/>
<rect x="557.97" y="307.83" width="4.54" height="4.38" fill="#7c2489"/>
<rect x="562.16" y="307.83" width="4.54" height="4.38" fill="#5e1a8e"/>
<rect x="566.35" y="307.83" width="4.54" height="4.38" fill="#4a1585"/>
<rect x="570.54" y="307.83" width="4.54" height="4.38" fill="#36186a"/>
<rect x="574.73" y="307.83" width="4.54" height="4.38" fill="#36186a"/>
<rect x="578.92" y="307.83" width="4.54" height="4.38" fill="#30204a"/>
<rect x="545.40" y="311.86" width="4.54" height="4.38" fill="#36186a"/>
<rect x="549.59" y="311.86" width="4.54" height="4.38" fill="#4a1585"/>
<rect x="553.78" y="311.86" width="4.54" height="4.38" fill="#7c2489"/>
<rect x="557.97" y="311.86" width="4.54" height="4.38" fill="#7c2489"/>
<rect x="562.16" y="311.86" width="4.54" height="4.38" fill="#5e1a8e"/>
<rect x="566.35" y="311.86" width="4.54" height="4.38" fill="#4a1585"/>
<rect x="570.54" y="311.86" width="4.54" height="4.38" fill="#4a1585"/>
<rect x="574.73" y="311.86" width="4.54" height="4.38" fill="#36186a"/>
<rect x="578.92" y="311.86" width="4.54" height="4.38" fill="#36186a"/>
<rect x="583.11" y="311.86" width="4.54" height="4.38" fill="#30204a"/>
<rect x="549.59" y="315.89" width="4.54" height="4.38" fill="#4a1585"/>
<rect x="553.78" y="315.89" width="4.54" height="4.38" fill="#5e1a8e"/>
<rect x="557.97" y="315.89" width="4.54" height="4.38" fill="#7c2489"/>
<rect x="562.16" y="315.89" width="4.54" height="4.38" fill="#4a1585"/>
<rect x="566.35" y="315.89" width="4.54" height="4.38" fill="#36186a"/>
<rect x="570.54" y="315.89" width="4.54" height="4.38" fill="#4a1585"/>
<rect x="574.73" y="315.89" width="4.54" height="4.38" fill="#36186a"/>
<rect x="578.92" y="315.89" width="4.54" height="4.38" fill="#36186a"/>
<rect x="549.59" y="319.92" width="4.54" height="4.38" fill="#4a1585"/>
<rect x="553.78" y="319.92" width="4.54" height="4.38" fill="#5e1a8e"/>
<rect x="557.97" y="319.92" width="4.54" height="4.38" fill="#5e1a8e"/>
<rect x="562.16" y="319.92" width="4.54" height="4.38" fill="#5e1a8e"/>
<rect x="566.35" y="319.92" width="4.54" height="4.38" fill="#4a1585"/>
<rect x="570.54" y="319.92" width="4.54" height="4.38" fill="#36186a"/>
<rect x="549.59" y="323.95" width="4.54" height="4.38" fill="#4a1585"/>
<rect x="553.78" y="323.95" width="4.54" height="4.38" fill="#5e1a8e"/>
<rect x="557.97" y="323.95" width="4.54" height="4.38" fill="#5e1a8e"/>
<rect x="562.16" y="323.95" width="4.54" height="4.38" fill="#4a1585"/>
<rect x="566.35" y="323.95" width="4.54" height="4.38" fill="#4a1585"/>
<rect x="570.54" y="323.95" width="4.54" height="4.38" fill="#36186a"/>
<rect x="549.59" y="327.98" width="4.54" height="4.38" fill="#4a1585"/>
<rect x="553.78" y="327.98" width="4.54" height="4.38" fill="#5e1a8e"/>
<rect x="557.97" y="327.98" width="4.54" height="4.38" fill="#5e1a8e"/>
<rect x="562.16" y="327.98" width="4.54" height="4.38" fill="#4a1585"/>
<rect x="566.35" y="327.98" width="4.54" height="4.38" fill="#4a1585"/>
<rect x="591.49" y="327.98" width="4.54" height="4.38" fill="#30204a"/>
<rect x="549.59" y="332.01" width="4.54" height="4.38" fill="#4a1585"/>
<rect x="553.78" y="332.01" width="4.54" height="4.38" fill="#4a1585"/>
<rect x="557.97" y="332.01" width="4.54" height="4.38" fill="#4a1585"/>
<rect x="562.16" y="332.01" width="4.54" height="4.38" fill="#4a1585"/>
<rect x="566.35" y="332.01" width="4.54" height="4.38" fill="#36186a"/>
<rect x="549.59" y="336.04" width="4.54" height="4.38" fill="#36186a"/>
<rect x="553.78" y="336.04" width="4.54" height="4.38" fill="#4a1585"/>
<rect x="557.97" y="336.04" width="4.54" height="4.38" fill="#4a1585"/>
<rect x="562.16" y="336.04" width="4.54" height="4.38" fill="#4a1585"/>
<rect x="566.35" y="336.04" width="4.54" height="4.38" fill="#36186a"/>
<rect x="570.54" y="336.04" width="4.54" height="4.38" fill="#36186a"/>
<rect x="553.78" y="340.07" width="4.54" height="4.38" fill="#4a1585"/>
<rect x="557.97" y="340.07" width="4.54" height="4.38" fill="#4a1585"/>
<rect x="562.16" y="340.07" width="4.54" height="4.38" fill="#36186a"/>
<rect x="570.54" y="340.07" width="4.54" height="4.38" fill="#36186a"/>
<rect x="553.78" y="344.10" width="4.54" height="4.38" fill="#4a1585"/>
<rect x="557.97" y="344.10" width="4.54" height="4.38" fill="#4a1585"/>
<rect x="562.16" y="344.10" width="4.54" height="4.38" fill="#4a1585"/>
<rect x="566.35" y="344.10" width="4.54" height="4.38" fill="#36186a"/>
<rect x="553.78" y="348.13" width="4.54" height="4.38" fill="#4a1585"/>
<rect x="557.97" y="348.13" width="4.54" height="4.38" fill="#4a1585"/>
<rect x="562.16" y="348.13" width="4.54" height="4.38" fill="#36186a"/>
<rect x="553.78" y="352.16" width="4.54" height="4.38" fill="#4a1585"/>
<rect x="557.97" y="352.16" width="4.54" height="4.38" fill="#36186a"/>
<rect x="562.16" y="352.16" width="4.54" height="4.38" fill="#36186a"/>
<rect x="553.78" y="356.19" width="4.54" height="4.38" fill="#36186a"/>
<rect x="557.97" y="356.19" width="4.54" height="4.38" fill="#36186a"/>
<rect x="553.78" y="360.22" width="4.54" height="4.38" fill="#36186a"/>
<rect x="557.97" y="360.22" width="4.54" height="4.38" fill="#36186a"/>
<rect x="553.78" y="364.25" width="4.54" height="4.38" fill="#36186a"/>
<rect x="557.97" y="364.25" width="4.54" height="4.38" fill="#30204a"/>
<rect x="557.97" y="368.28" width="4.54" height="4.38" fill="#30204a"/>
<rect x="512.68" y="296.24" width="103.8" height="104.1" fill="none" stroke="#333333" stroke-width="1.07"/>
<text x="613.38" y="397.54" font-size="10.9" fill="#e8e8ee" text-anchor="end">0.02</text>
<rect x="57.10" y="409.51" width="104.8" height="105.1" fill="#2d1d40"/>
<rect x="56.80" y="421.60" width="4.54" height="4.38" fill="#30204a"/>
<rect x="123.84" y="421.60" width="4.54" height="4.38" fill="#36186a"/>
<rect x="81.94" y="425.63" width="4.54" height="4.38" fill="#36186a"/>
<rect x="136.41" y="445.78" width="4.54" height="4.38" fill="#36186a"/>
<rect x="69.37" y="457.87" width="4.54" height="4.38" fill="#36186a"/>
<rect x="153.17" y="482.05" width="4.54" height="4.38" fill="#30204a"/>
<rect x="90.32" y="486.08" width="4.54" height="4.38" fill="#36186a"/>
<rect x="94.51" y="490.11" width="4.54" height="4.38" fill="#30204a"/>
<rect x="77.75" y="498.17" width="4.54" height="4.38" fill="#30204a"/>
<rect x="57.60" y="410.01" width="103.8" height="104.1" fill="none" stroke="#333333" stroke-width="1.07"/>
<text x="158.30" y="511.31" font-size="10.9" fill="#e8e8ee" text-anchor="end">0.55</text>
<rect x="170.87" y="409.51" width="104.8" height="105.1" fill="#2d1d40"/>
<rect x="212.47" y="409.51" width="4.54" height="4.38" fill="#36186a"/>
<rect x="216.66" y="409.51" width="4.54" height="4.38" fill="#30204a"/>
<rect x="254.37" y="409.51" width="4.54" height="4.38" fill="#30204a"/>
<rect x="212.47" y="413.54" width="4.54" height="4.38" fill="#36186a"/>
<rect x="216.66" y="413.54" width="4.54" height="4.38" fill="#36186a"/>
<rect x="178.95" y="417.57" width="4.54" height="4.38" fill="#30204a"/>
<rect x="212.47" y="417.57" width="4.54" height="4.38" fill="#36186a"/>
<rect x="245.99" y="417.57" width="4.54" height="4.38" fill="#30204a"/>
<rect x="212.47" y="421.60" width="4.54" height="4.38" fill="#36186a"/>
<rect x="225.04" y="421.60" width="4.54" height="4.38" fill="#36186a"/>
<rect x="178.95" y="425.63" width="4.54" height="4.38" fill="#30204a"/>
<rect x="212.47" y="425.63" width="4.54" height="4.38" fill="#36186a"/>
<rect x="212.47" y="429.66" width="4.54" height="4.38" fill="#36186a"/>
<rect x="258.56" y="429.66" width="4.54" height="4.38" fill="#36186a"/>
<rect x="258.56" y="433.69" width="4.54" height="4.38" fill="#36186a"/>
<rect x="212.47" y="437.72" width="4.54" height="4.38" fill="#36186a"/>
<rect x="216.66" y="437.72" width="4.54" height="4.38" fill="#30204a"/>
<rect x="212.47" y="441.75" width="4.54" height="4.38" fill="#36186a"/>
<rect x="216.66" y="445.78" width="4.54" height="4.38" fill="#30204a"/>
<rect x="212.47" y="453.84" width="4.54" height="4.38" fill="#30204a"/>
<rect x="174.76" y="457.87" width="4.54" height="4.38" fill="#30204a"/>
<rect x="237.61" y="457.87" width="4.54" height="4.38" fill="#30204a"/>
<rect x="212.47" y="465.93" width="4.54" height="4.38" fill="#36186a"/>
<rect x="178.95" y="473.99" width="4.54" height="4.38" fill="#30204a"/>
<rect x="254.37" y="473.99" width="4.54" height="4.38" fill="#30204a"/>
<rect x="212.47" y="478.02" width="4.54" height="4.38" fill="#36186a"/>
<rect x="187.33" y="482.05" width="4.54" height="4.38" fill="#30204a"/>
<rect x="191.52" y="482.05" width="4.54" height="4.38" fill="#30204a"/>
<rect x="233.42" y="486.08" width="4.54" height="4.38" fill="#36186a"/>
<rect x="199.90" y="494.14" width="4.54" height="4.38" fill="#30204a"/>
<rect x="171.37" y="410.01" width="103.8" height="104.1" fill="none" stroke="#333333" stroke-width="1.07"/>
<text x="272.07" y="511.31" font-size="10.9" fill="#e8e8ee" text-anchor="end">0.51</text>
<rect x="284.64" y="409.51" width="104.8" height="105.1" fill="#2d1d40"/>
<rect x="322.05" y="409.51" width="4.54" height="4.38" fill="#36186a"/>
<rect x="326.24" y="409.51" width="4.54" height="4.38" fill="#7c2489"/>
<rect x="330.43" y="409.51" width="4.54" height="4.38" fill="#4a1585"/>
<rect x="313.67" y="413.54" width="4.54" height="4.38" fill="#30204a"/>
<rect x="322.05" y="413.54" width="4.54" height="4.38" fill="#36186a"/>
<rect x="326.24" y="413.54" width="4.54" height="4.38" fill="#5e1a8e"/>
<rect x="330.43" y="413.54" width="4.54" height="4.38" fill="#4a1585"/>
<rect x="372.33" y="413.54" width="4.54" height="4.38" fill="#30204a"/>
<rect x="322.05" y="417.57" width="4.54" height="4.38" fill="#36186a"/>
<rect x="326.24" y="417.57" width="4.54" height="4.38" fill="#4a1585"/>
<rect x="330.43" y="417.57" width="4.54" height="4.38" fill="#4a1585"/>
<rect x="334.62" y="417.57" width="4.54" height="4.38" fill="#30204a"/>
<rect x="313.67" y="421.60" width="4.54" height="4.38" fill="#30204a"/>
<rect x="326.24" y="421.60" width="4.54" height="4.38" fill="#7c2489"/>
<rect x="330.43" y="421.60" width="4.54" height="4.38" fill="#4a1585"/>
<rect x="326.24" y="425.63" width="4.54" height="4.38" fill="#4a1585"/>
<rect x="330.43" y="425.63" width="4.54" height="4.38" fill="#4a1585"/>
<rect x="322.05" y="429.66" width="4.54" height="4.38" fill="#36186a"/>
<rect x="326.24" y="429.66" width="4.54" height="4.38" fill="#4a1585"/>
<rect x="330.43" y="429.66" width="4.54" height="4.38" fill="#36186a"/>
<rect x="313.67" y="433.69" width="4.54" height="4.38" fill="#30204a"/>
<rect x="326.24" y="433.69" width="4.54" height="4.38" fill="#4a1585"/>
<rect x="330.43" y="433.69" width="4.54" height="4.38" fill="#4a1585"/>
<rect x="292.72" y="437.72" width="4.54" height="4.38" fill="#30204a"/>
<rect x="326.24" y="437.72" width="4.54" height="4.38" fill="#4a1585"/>
<rect x="330.43" y="437.72" width="4.54" height="4.38" fill="#4a1585"/>
<rect x="322.05" y="441.75" width="4.54" height="4.38" fill="#36186a"/>
<rect x="326.24" y="441.75" width="4.54" height="4.38" fill="#4a1585"/>
<rect x="330.43" y="441.75" width="4.54" height="4.38" fill="#36186a"/>
<rect x="305.29" y="445.78" width="4.54" height="4.38" fill="#30204a"/>
<rect x="326.24" y="445.78" width="4.54" height="4.38" fill="#4a1585"/>
<rect x="317.86" y="449.81" width="4.54" height="4.38" fill="#30204a"/>
<rect x="322.05" y="449.81" width="4.54" height="4.38" fill="#36186a"/>
<rect x="326.24" y="449.81" width="4.54" height="4.38" fill="#4a1585"/>
<rect x="330.43" y="449.81" width="4.54" height="4.38" fill="#4a1585"/>
<rect x="288.53" y="453.84" width="4.54" height="4.38" fill="#30204a"/>
<rect x="326.24" y="453.84" width="4.54" height="4.38" fill="#4a1585"/>
<rect x="326.24" y="457.87" width="4.54" height="4.38" fill="#36186a"/>
<rect x="326.24" y="465.93" width="4.54" height="4.38" fill="#36186a"/>
<rect x="326.24" y="490.11" width="4.54" height="4.38" fill="#36186a"/>
<rect x="334.62" y="506.23" width="4.54" height="4.38" fill="#36186a"/>
<rect x="285.14" y="410.01" width="103.8" height="104.1" fill="none" stroke="#333333" stroke-width="1.07"/>
<text x="385.84" y="511.31" font-size="10.9" fill="#e8e8ee" text-anchor="end">0.44</text>
<rect x="398.41" y="409.51" width="104.8" height="105.1" fill="#2d1d40"/>
<rect x="414.87" y="409.51" width="4.54" height="4.38" fill="#36186a"/>
<rect x="423.25" y="409.51" width="4.54" height="4.38" fill="#36186a"/>
<rect x="427.44" y="409.51" width="4.54" height="4.38" fill="#4a1585"/>
<rect x="431.63" y="409.51" width="4.54" height="4.38" fill="#36186a"/>
<rect x="435.82" y="409.51" width="4.54" height="4.38" fill="#4a1585"/>
<rect x="440.01" y="409.51" width="4.54" height="4.38" fill="#e05266"/>
<rect x="444.20" y="409.51" width="4.54" height="4.38" fill="#7c2489"/>
<rect x="448.39" y="409.51" width="4.54" height="4.38" fill="#4a1585"/>
<rect x="452.58" y="409.51" width="4.54" height="4.38" fill="#36186a"/>
<rect x="423.25" y="413.54" width="4.54" height="4.38" fill="#36186a"/>
<rect x="427.44" y="413.54" width="4.54" height="4.38" fill="#4a1585"/>
<rect x="431.63" y="413.54" width="4.54" height="4.38" fill="#36186a"/>
<rect x="435.82" y="413.54" width="4.54" height="4.38" fill="#5e1a8e"/>
<rect x="440.01" y="413.54" width="4.54" height="4.38" fill="#9d2f84"/>
<rect x="444.20" y="413.54" width="4.54" height="4.38" fill="#7c2489"/>
<rect x="448.39" y="413.54" width="4.54" height="4.38" fill="#4a1585"/>
<rect x="456.77" y="413.54" width="4.54" height="4.38" fill="#36186a"/>
<rect x="423.25" y="417.57" width="4.54" height="4.38" fill="#36186a"/>
<rect x="427.44" y="417.57" width="4.54" height="4.38" fill="#36186a"/>
<rect x="431.63" y="417.57" width="4.54" height="4.38" fill="#4a1585"/>
<rect x="435.82" y="417.57" width="4.54" height="4.38" fill="#5e1a8e"/>
<rect x="440.01" y="417.57" width="4.54" height="4.38" fill="#9d2f84"/>
<rect x="444.20" y="417.57" width="4.54" height="4.38" fill="#7c2489"/>
<rect x="448.39" y="417.57" width="4.54" height="4.38" fill="#4a1585"/>
<rect x="410.68" y="421.60" width="4.54" height="4.38" fill="#36186a"/>
<rect x="419.06" y="421.60" width="4.54" height="4.38" fill="#36186a"/>
<rect x="427.44" y="421.60" width="4.54" height="4.38" fill="#36186a"/>
<rect x="435.82" y="421.60" width="4.54" height="4.38" fill="#5e1a8e"/>
<rect x="440.01" y="421.60" width="4.54" height="4.38" fill="#9d2f84"/>
<rect x="444.20" y="421.60" width="4.54" height="4.38" fill="#7c2489"/>
<rect x="448.39" y="421.60" width="4.54" height="4.38" fill="#4a1585"/>
<rect x="452.58" y="421.60" width="4.54" height="4.38" fill="#36186a"/>
<rect x="456.77" y="421.60" width="4.54" height="4.38" fill="#36186a"/>
<rect x="410.68" y="425.63" width="4.54" height="4.38" fill="#36186a"/>
<rect x="419.06" y="425.63" width="4.54" height="4.38" fill="#36186a"/>
<rect x="435.82" y="425.63" width="4.54" height="4.38" fill="#5e1a8e"/>
<rect x="440.01" y="425.63" width="4.54" height="4.38" fill="#7c2489"/>
<rect x="444.20" y="425.63" width="4.54" height="4.38" fill="#7c2489"/>
<rect x="448.39" y="425.63" width="4.54" height="4.38" fill="#4a1585"/>
<rect x="456.77" y="425.63" width="4.54" height="4.38" fill="#36186a"/>
<rect x="423.25" y="429.66" width="4.54" height="4.38" fill="#36186a"/>
<rect x="431.63" y="429.66" width="4.54" height="4.38" fill="#36186a"/>
<rect x="435.82" y="429.66" width="4.54" height="4.38" fill="#5e1a8e"/>
<rect x="440.01" y="429.66" width="4.54" height="4.38" fill="#9d2f84"/>
<rect x="444.20" y="429.66" width="4.54" height="4.38" fill="#5e1a8e"/>
<rect x="448.39" y="429.66" width="4.54" height="4.38" fill="#4a1585"/>
<rect x="427.44" y="433.69" width="4.54" height="4.38" fill="#4a1585"/>
<rect x="435.82" y="433.69" width="4.54" height="4.38" fill="#4a1585"/>
<rect x="440.01" y="433.69" width="4.54" height="4.38" fill="#7c2489"/>
<rect x="444.20" y="433.69" width="4.54" height="4.38" fill="#7c2489"/>
<rect x="448.39" y="433.69" width="4.54" height="4.38" fill="#4a1585"/>
<rect x="431.63" y="437.72" width="4.54" height="4.38" fill="#36186a"/>
<rect x="435.82" y="437.72" width="4.54" height="4.38" fill="#4a1585"/>
<rect x="440.01" y="437.72" width="4.54" height="4.38" fill="#7c2489"/>
<rect x="444.20" y="437.72" width="4.54" height="4.38" fill="#7c2489"/>
<rect x="448.39" y="437.72" width="4.54" height="4.38" fill="#36186a"/>
<rect x="423.25" y="441.75" width="4.54" height="4.38" fill="#36186a"/>
<rect x="435.82" y="441.75" width="4.54" height="4.38" fill="#4a1585"/>
<rect x="440.01" y="441.75" width="4.54" height="4.38" fill="#7c2489"/>
<rect x="444.20" y="441.75" width="4.54" height="4.38" fill="#5e1a8e"/>
<rect x="448.39" y="441.75" width="4.54" height="4.38" fill="#36186a"/>
<rect x="452.58" y="441.75" width="4.54" height="4.38" fill="#36186a"/>
<rect x="456.77" y="441.75" width="4.54" height="4.38" fill="#36186a"/>
<rect x="431.63" y="445.78" width="4.54" height="4.38" fill="#36186a"/>
<rect x="435.82" y="445.78" width="4.54" height="4.38" fill="#4a1585"/>
<rect x="440.01" y="445.78" width="4.54" height="4.38" fill="#5e1a8e"/>
<rect x="444.20" y="445.78" width="4.54" height="4.38" fill="#5e1a8e"/>
<rect x="448.39" y="445.78" width="4.54" height="4.38" fill="#4a1585"/>
<rect x="423.25" y="449.81" width="4.54" height="4.38" fill="#36186a"/>
<rect x="435.82" y="449.81" width="4.54" height="4.38" fill="#4a1585"/>
<rect x="440.01" y="449.81" width="4.54" height="4.38" fill="#7c2489"/>
<rect x="444.20" y="449.81" width="4.54" height="4.38" fill="#4a1585"/>
<rect x="448.39" y="449.81" width="4.54" height="4.38" fill="#36186a"/>
<rect x="423.25" y="453.84" width="4.54" height="4.38" fill="#36186a"/>
<rect x="427.44" y="453.84" width="4.54" height="4.38" fill="#36186a"/>
<rect x="431.63" y="453.84" width="4.54" height="4.38" fill="#4a1585"/>
<rect x="435.82" y="453.84" width="4.54" height="4.38" fill="#4a1585"/>
<rect x="440.01" y="453.84" width="4.54" height="4.38" fill="#7c2489"/>
<rect x="444.20" y="453.84" width="4.54" height="4.38" fill="#5e1a8e"/>
<rect x="423.25" y="457.87" width="4.54" height="4.38" fill="#36186a"/>
<rect x="431.63" y="457.87" width="4.54" height="4.38" fill="#4a1585"/>
<rect x="435.82" y="457.87" width="4.54" height="4.38" fill="#4a1585"/>
<rect x="440.01" y="457.87" width="4.54" height="4.38" fill="#5e1a8e"/>
<rect x="444.20" y="457.87" width="4.54" height="4.38" fill="#5e1a8e"/>
<rect x="419.06" y="461.90" width="4.54" height="4.38" fill="#36186a"/>
<rect x="440.01" y="461.90" width="4.54" height="4.38" fill="#5e1a8e"/>
<rect x="444.20" y="461.90" width="4.54" height="4.38" fill="#5e1a8e"/>
<rect x="460.96" y="461.90" width="4.54" height="4.38" fill="#36186a"/>
<rect x="440.01" y="465.93" width="4.54" height="4.38" fill="#4a1585"/>
<rect x="444.20" y="465.93" width="4.54" height="4.38" fill="#4a1585"/>
<rect x="419.06" y="469.96" width="4.54" height="4.38" fill="#36186a"/>
<rect x="435.82" y="469.96" width="4.54" height="4.38" fill="#36186a"/>
<rect x="440.01" y="469.96" width="4.54" height="4.38" fill="#4a1585"/>
<rect x="444.20" y="469.96" width="4.54" height="4.38" fill="#4a1585"/>
<rect x="448.39" y="469.96" width="4.54" height="4.38" fill="#4a1585"/>
<rect x="440.01" y="473.99" width="4.54" height="4.38" fill="#4a1585"/>
<rect x="444.20" y="473.99" width="4.54" height="4.38" fill="#36186a"/>
<rect x="440.01" y="478.02" width="4.54" height="4.38" fill="#36186a"/>
<rect x="435.82" y="482.05" width="4.54" height="4.38" fill="#36186a"/>
<rect x="440.01" y="486.08" width="4.54" height="4.38" fill="#36186a"/>
<rect x="440.01" y="490.11" width="4.54" height="4.38" fill="#36186a"/>
<rect x="465.15" y="494.14" width="4.54" height="4.38" fill="#36186a"/>
<rect x="490.29" y="498.17" width="4.54" height="4.38" fill="#36186a"/>
<rect x="465.15" y="502.20" width="4.54" height="4.38" fill="#36186a"/>
<rect x="398.91" y="410.01" width="103.8" height="104.1" fill="none" stroke="#333333" stroke-width="1.07"/>
<text x="499.61" y="511.31" font-size="10.9" fill="#e8e8ee" text-anchor="end">0.31</text>
<rect x="512.18" y="409.51" width="104.8" height="105.1" fill="#2d1d40"/>
<rect x="528.64" y="409.51" width="4.54" height="4.38" fill="#30204a"/>
<rect x="532.83" y="409.51" width="4.54" height="4.38" fill="#36186a"/>
<rect x="537.02" y="409.51" width="4.54" height="4.38" fill="#4a1585"/>
<rect x="541.21" y="409.51" width="4.54" height="4.38" fill="#4a1585"/>
<rect x="545.40" y="409.51" width="4.54" height="4.38" fill="#5e1a8e"/>
<rect x="549.59" y="409.51" width="4.54" height="4.38" fill="#9d2f84"/>
<rect x="553.78" y="409.51" width="4.54" height="4.38" fill="#f6c68c"/>
<rect x="557.97" y="409.51" width="4.54" height="4.38" fill="#f6c68c"/>
<rect x="562.16" y="409.51" width="4.54" height="4.38" fill="#c23c78"/>
<rect x="566.35" y="409.51" width="4.54" height="4.38" fill="#7c2489"/>
<rect x="570.54" y="409.51" width="4.54" height="4.38" fill="#5e1a8e"/>
<rect x="574.73" y="409.51" width="4.54" height="4.38" fill="#4a1585"/>
<rect x="578.92" y="409.51" width="4.54" height="4.38" fill="#36186a"/>
<rect x="583.11" y="409.51" width="4.54" height="4.38" fill="#30204a"/>
<rect x="532.83" y="413.54" width="4.54" height="4.38" fill="#30204a"/>
<rect x="537.02" y="413.54" width="4.54" height="4.38" fill="#4a1585"/>
<rect x="541.21" y="413.54" width="4.54" height="4.38" fill="#4a1585"/>
<rect x="545.40" y="413.54" width="4.54" height="4.38" fill="#4a1585"/>
<rect x="549.59" y="413.54" width="4.54" height="4.38" fill="#7c2489"/>
<rect x="553.78" y="413.54" width="4.54" height="4.38" fill="#f59c6c"/>
<rect x="557.97" y="413.54" width="4.54" height="4.38" fill="#f6c68c"/>
<rect x="562.16" y="413.54" width="4.54" height="4.38" fill="#9d2f84"/>
<rect x="566.35" y="413.54" width="4.54" height="4.38" fill="#7c2489"/>
<rect x="570.54" y="413.54" width="4.54" height="4.38" fill="#5e1a8e"/>
<rect x="574.73" y="413.54" width="4.54" height="4.38" fill="#5e1a8e"/>
<rect x="578.92" y="413.54" width="4.54" height="4.38" fill="#36186a"/>
<rect x="583.11" y="413.54" width="4.54" height="4.38" fill="#30204a"/>
<rect x="591.49" y="413.54" width="4.54" height="4.38" fill="#30204a"/>
<rect x="537.02" y="417.57" width="4.54" height="4.38" fill="#36186a"/>
<rect x="541.21" y="417.57" width="4.54" height="4.38" fill="#4a1585"/>
<rect x="545.40" y="417.57" width="4.54" height="4.38" fill="#4a1585"/>
<rect x="549.59" y="417.57" width="4.54" height="4.38" fill="#7c2489"/>
<rect x="553.78" y="417.57" width="4.54" height="4.38" fill="#f59c6c"/>
<rect x="557.97" y="417.57" width="4.54" height="4.38" fill="#f59c6c"/>
<rect x="562.16" y="417.57" width="4.54" height="4.38" fill="#9d2f84"/>
<rect x="566.35" y="417.57" width="4.54" height="4.38" fill="#7c2489"/>
<rect x="570.54" y="417.57" width="4.54" height="4.38" fill="#5e1a8e"/>
<rect x="574.73" y="417.57" width="4.54" height="4.38" fill="#4a1585"/>
<rect x="578.92" y="417.57" width="4.54" height="4.38" fill="#36186a"/>
<rect x="583.11" y="417.57" width="4.54" height="4.38" fill="#30204a"/>
<rect x="587.30" y="417.57" width="4.54" height="4.38" fill="#36186a"/>
<rect x="537.02" y="421.60" width="4.54" height="4.38" fill="#36186a"/>
<rect x="541.21" y="421.60" width="4.54" height="4.38" fill="#4a1585"/>
<rect x="545.40" y="421.60" width="4.54" height="4.38" fill="#4a1585"/>
<rect x="549.59" y="421.60" width="4.54" height="4.38" fill="#7c2489"/>
<rect x="553.78" y="421.60" width="4.54" height="4.38" fill="#f07a5e"/>
<rect x="557.97" y="421.60" width="4.54" height="4.38" fill="#f07a5e"/>
<rect x="562.16" y="421.60" width="4.54" height="4.38" fill="#9d2f84"/>
<rect x="566.35" y="421.60" width="4.54" height="4.38" fill="#7c2489"/>
<rect x="570.54" y="421.60" width="4.54" height="4.38" fill="#5e1a8e"/>
<rect x="574.73" y="421.60" width="4.54" height="4.38" fill="#4a1585"/>
<rect x="578.92" y="421.60" width="4.54" height="4.38" fill="#4a1585"/>
<rect x="583.11" y="421.60" width="4.54" height="4.38" fill="#30204a"/>
<rect x="537.02" y="425.63" width="4.54" height="4.38" fill="#36186a"/>
<rect x="541.21" y="425.63" width="4.54" height="4.38" fill="#36186a"/>
<rect x="545.40" y="425.63" width="4.54" height="4.38" fill="#5e1a8e"/>
<rect x="549.59" y="425.63" width="4.54" height="4.38" fill="#7c2489"/>
<rect x="553.78" y="425.63" width="4.54" height="4.38" fill="#f07a5e"/>
<rect x="557.97" y="425.63" width="4.54" height="4.38" fill="#f07a5e"/>
<rect x="562.16" y="425.63" width="4.54" height="4.38" fill="#9d2f84"/>
<rect x="566.35" y="425.63" width="4.54" height="4.38" fill="#7c2489"/>
<rect x="570.54" y="425.63" width="4.54" height="4.38" fill="#5e1a8e"/>
<rect x="574.73" y="425.63" width="4.54" height="4.38" fill="#4a1585"/>
<rect x="578.92" y="425.63" width="4.54" height="4.38" fill="#36186a"/>
<rect x="537.02" y="429.66" width="4.54" height="4.38" fill="#36186a"/>
<rect x="541.21" y="429.66" width="4.54" height="4.38" fill="#4a1585"/>
<rect x="545.40" y="429.66" width="4.54" height="4.38" fill="#4a1585"/>
<rect x="549.59" y="429.66" width="4.54" height="4.38" fill="#7c2489"/>
<rect x="553.78" y="429.66" width="4.54" height="4.38" fill="#e05266"/>
<rect x="557.97" y="429.66" width="4.54" height="4.38" fill="#f07a5e"/>
<rect x="562.16" y="429.66" width="4.54" height="4.38" fill="#9d2f84"/>
<rect x="566.35" y="429.66" width="4.54" height="4.38" fill="#7c2489"/>
<rect x="570.54" y="429.66" width="4.54" height="4.38" fill="#4a1585"/>
<rect x="574.73" y="429.66" width="4.54" height="4.38" fill="#4a1585"/>
<rect x="578.92" y="429.66" width="4.54" height="4.38" fill="#36186a"/>
<rect x="537.02" y="433.69" width="4.54" height="4.38" fill="#30204a"/>
<rect x="541.21" y="433.69" width="4.54" height="4.38" fill="#36186a"/>
<rect x="545.40" y="433.69" width="4.54" height="4.38" fill="#4a1585"/>
<rect x="549.59" y="433.69" width="4.54" height="4.38" fill="#7c2489"/>
<rect x="553.78" y="433.69" width="4.54" height="4.38" fill="#e05266"/>
<rect x="557.97" y="433.69" width="4.54" height="4.38" fill="#e05266"/>
<rect x="562.16" y="433.69" width="4.54" height="4.38" fill="#7c2489"/>
<rect x="566.35" y="433.69" width="4.54" height="4.38" fill="#7c2489"/>
<rect x="570.54" y="433.69" width="4.54" height="4.38" fill="#5e1a8e"/>
<rect x="574.73" y="433.69" width="4.54" height="4.38" fill="#4a1585"/>
<rect x="578.92" y="433.69" width="4.54" height="4.38" fill="#36186a"/>
<rect x="524.45" y="437.72" width="4.54" height="4.38" fill="#36186a"/>
<rect x="541.21" y="437.72" width="4.54" height="4.38" fill="#36186a"/>
<rect x="545.40" y="437.72" width="4.54" height="4.38" fill="#4a1585"/>
<rect x="549.59" y="437.72" width="4.54" height="4.38" fill="#7c2489"/>
<rect x="553.78" y="437.72" width="4.54" height="4.38" fill="#e05266"/>
<rect x="557.97" y="437.72" width="4.54" height="4.38" fill="#e05266"/>
<rect x="562.16" y="437.72" width="4.54" height="4.38" fill="#9d2f84"/>
<rect x="566.35" y="437.72" width="4.54" height="4.38" fill="#7c2489"/>
<rect x="570.54" y="437.72" width="4.54" height="4.38" fill="#5e1a8e"/>
<rect x="574.73" y="437.72" width="4.54" height="4.38" fill="#36186a"/>
<rect x="578.92" y="437.72" width="4.54" height="4.38" fill="#36186a"/>
<rect x="541.21" y="441.75" width="4.54" height="4.38" fill="#36186a"/>
<rect x="545.40" y="441.75" width="4.54" height="4.38" fill="#36186a"/>
<rect x="549.59" y="441.75" width="4.54" height="4.38" fill="#7c2489"/>
<rect x="553.78" y="441.75" width="4.54" height="4.38" fill="#e05266"/>
<rect x="557.97" y="441.75" width="4.54" height="4.38" fill="#c23c78"/>
<rect x="562.16" y="441.75" width="4.54" height="4.38" fill="#7c2489"/>
<rect x="566.35" y="441.75" width="4.54" height="4.38" fill="#7c2489"/>
<rect x="570.54" y="441.75" width="4.54" height="4.38" fill="#4a1585"/>
<rect x="574.73" y="441.75" width="4.54" height="4.38" fill="#36186a"/>
<rect x="545.40" y="445.78" width="4.54" height="4.38" fill="#4a1585"/>
<rect x="549.59" y="445.78" width="4.54" height="4.38" fill="#7c2489"/>
<rect x="553.78" y="445.78" width="4.54" height="4.38" fill="#9d2f84"/>
<rect x="557.97" y="445.78" width="4.54" height="4.38" fill="#9d2f84"/>
<rect x="562.16" y="445.78" width="4.54" height="4.38" fill="#7c2489"/>
<rect x="566.35" y="445.78" width="4.54" height="4.38" fill="#5e1a8e"/>
<rect x="570.54" y="445.78" width="4.54" height="4.38" fill="#4a1585"/>
<rect x="574.73" y="445.78" width="4.54" height="4.38" fill="#36186a"/>
<rect x="583.11" y="445.78" width="4.54" height="4.38" fill="#36186a"/>
<rect x="545.40" y="449.81" width="4.54" height="4.38" fill="#36186a"/>
<rect x="549.59" y="449.81" width="4.54" height="4.38" fill="#5e1a8e"/>
<rect x="553.78" y="449.81" width="4.54" height="4.38" fill="#9d2f84"/>
<rect x="557.97" y="449.81" width="4.54" height="4.38" fill="#9d2f84"/>
<rect x="562.16" y="449.81" width="4.54" height="4.38" fill="#7c2489"/>
<rect x="566.35" y="449.81" width="4.54" height="4.38" fill="#5e1a8e"/>
<rect x="570.54" y="449.81" width="4.54" height="4.38" fill="#5e1a8e"/>
<rect x="574.73" y="449.81" width="4.54" height="4.38" fill="#36186a"/>
<rect x="578.92" y="449.81" width="4.54" height="4.38" fill="#36186a"/>
<rect x="545.40" y="453.84" width="4.54" height="4.38" fill="#36186a"/>
<rect x="549.59" y="453.84" width="4.54" height="4.38" fill="#5e1a8e"/>
<rect x="553.78" y="453.84" width="4.54" height="4.38" fill="#9d2f84"/>
<rect x="557.97" y="453.84" width="4.54" height="4.38" fill="#9d2f84"/>
<rect x="562.16" y="453.84" width="4.54" height="4.38" fill="#7c2489"/>
<rect x="566.35" y="453.84" width="4.54" height="4.38" fill="#4a1585"/>
<rect x="570.54" y="453.84" width="4.54" height="4.38" fill="#4a1585"/>
<rect x="545.40" y="457.87" width="4.54" height="4.38" fill="#36186a"/>
<rect x="549.59" y="457.87" width="4.54" height="4.38" fill="#4a1585"/>
<rect x="553.78" y="457.87" width="4.54" height="4.38" fill="#7c2489"/>
<rect x="557.97" y="457.87" width="4.54" height="4.38" fill="#7c2489"/>
<rect x="562.16" y="457.87" width="4.54" height="4.38" fill="#5e1a8e"/>
<rect x="566.35" y="457.87" width="4.54" height="4.38" fill="#4a1585"/>
<rect x="570.54" y="457.87" width="4.54" height="4.38" fill="#36186a"/>
<rect x="549.59" y="461.90" width="4.54" height="4.38" fill="#4a1585"/>
<rect x="553.78" y="461.90" width="4.54" height="4.38" fill="#7c2489"/>
<rect x="557.97" y="461.90" width="4.54" height="4.38" fill="#7c2489"/>
<rect x="562.16" y="461.90" width="4.54" height="4.38" fill="#5e1a8e"/>
<rect x="566.35" y="461.90" width="4.54" height="4.38" fill="#4a1585"/>
<rect x="545.40" y="465.93" width="4.54" height="4.38" fill="#36186a"/>
<rect x="549.59" y="465.93" width="4.54" height="4.38" fill="#4a1585"/>
<rect x="553.78" y="465.93" width="4.54" height="4.38" fill="#5e1a8e"/>
<rect x="557.97" y="465.93" width="4.54" height="4.38" fill="#7c2489"/>
<rect x="562.16" y="465.93" width="4.54" height="4.38" fill="#4a1585"/>
<rect x="566.35" y="465.93" width="4.54" height="4.38" fill="#4a1585"/>
<rect x="570.54" y="465.93" width="4.54" height="4.38" fill="#36186a"/>
<rect x="545.40" y="469.96" width="4.54" height="4.38" fill="#36186a"/>
<rect x="549.59" y="469.96" width="4.54" height="4.38" fill="#4a1585"/>
<rect x="553.78" y="469.96" width="4.54" height="4.38" fill="#5e1a8e"/>
<rect x="557.97" y="469.96" width="4.54" height="4.38" fill="#5e1a8e"/>
<rect x="562.16" y="469.96" width="4.54" height="4.38" fill="#4a1585"/>
<rect x="566.35" y="469.96" width="4.54" height="4.38" fill="#36186a"/>
<rect x="570.54" y="469.96" width="4.54" height="4.38" fill="#36186a"/>
<rect x="549.59" y="473.99" width="4.54" height="4.38" fill="#4a1585"/>
<rect x="553.78" y="473.99" width="4.54" height="4.38" fill="#5e1a8e"/>
<rect x="557.97" y="473.99" width="4.54" height="4.38" fill="#5e1a8e"/>
<rect x="562.16" y="473.99" width="4.54" height="4.38" fill="#4a1585"/>
<rect x="566.35" y="473.99" width="4.54" height="4.38" fill="#36186a"/>
<rect x="549.59" y="478.02" width="4.54" height="4.38" fill="#4a1585"/>
<rect x="553.78" y="478.02" width="4.54" height="4.38" fill="#4a1585"/>
<rect x="557.97" y="478.02" width="4.54" height="4.38" fill="#4a1585"/>
<rect x="562.16" y="478.02" width="4.54" height="4.38" fill="#36186a"/>
<rect x="566.35" y="478.02" width="4.54" height="4.38" fill="#4a1585"/>
<rect x="549.59" y="482.05" width="4.54" height="4.38" fill="#36186a"/>
<rect x="553.78" y="482.05" width="4.54" height="4.38" fill="#4a1585"/>
<rect x="557.97" y="482.05" width="4.54" height="4.38" fill="#4a1585"/>
<rect x="562.16" y="482.05" width="4.54" height="4.38" fill="#4a1585"/>
<rect x="566.35" y="482.05" width="4.54" height="4.38" fill="#36186a"/>
<rect x="549.59" y="486.08" width="4.54" height="4.38" fill="#36186a"/>
<rect x="553.78" y="486.08" width="4.54" height="4.38" fill="#4a1585"/>
<rect x="557.97" y="486.08" width="4.54" height="4.38" fill="#4a1585"/>
<rect x="562.16" y="486.08" width="4.54" height="4.38" fill="#36186a"/>
<rect x="553.78" y="490.11" width="4.54" height="4.38" fill="#4a1585"/>
<rect x="557.97" y="490.11" width="4.54" height="4.38" fill="#4a1585"/>
<rect x="553.78" y="494.14" width="4.54" height="4.38" fill="#36186a"/>
<rect x="557.97" y="494.14" width="4.54" height="4.38" fill="#36186a"/>
<rect x="512.68" y="410.01" width="103.8" height="104.1" fill="none" stroke="#333333" stroke-width="1.07"/>
<text x="613.38" y="511.31" font-size="10.9" fill="#e8e8ee" text-anchor="end">0.09</text>
<rect x="57.10" y="523.28" width="104.8" height="105.1" fill="#2d1d40"/>
<rect x="102.89" y="527.31" width="4.54" height="4.38" fill="#30204a"/>
<rect x="86.13" y="531.34" width="4.54" height="4.38" fill="#30204a"/>
<rect x="140.60" y="535.37" width="4.54" height="4.38" fill="#36186a"/>
<rect x="123.84" y="539.40" width="4.54" height="4.38" fill="#30204a"/>
<rect x="132.22" y="551.49" width="4.54" height="4.38" fill="#30204a"/>
<rect x="77.75" y="559.55" width="4.54" height="4.38" fill="#30204a"/>
<rect x="98.70" y="591.79" width="4.54" height="4.38" fill="#30204a"/>
<rect x="60.99" y="611.94" width="4.54" height="4.38" fill="#36186a"/>
<rect x="57.60" y="523.78" width="103.8" height="104.1" fill="none" stroke="#333333" stroke-width="1.07"/>
<text x="158.30" y="625.08" font-size="10.9" fill="#e8e8ee" text-anchor="end">0.61</text>
<rect x="170.87" y="523.28" width="104.8" height="105.1" fill="#2d1d40"/>
<rect x="212.47" y="523.28" width="4.54" height="4.38" fill="#36186a"/>
<rect x="216.66" y="523.28" width="4.54" height="4.38" fill="#36186a"/>
<rect x="212.47" y="527.31" width="4.54" height="4.38" fill="#30204a"/>
<rect x="216.66" y="527.31" width="4.54" height="4.38" fill="#36186a"/>
<rect x="212.47" y="531.34" width="4.54" height="4.38" fill="#30204a"/>
<rect x="216.66" y="531.34" width="4.54" height="4.38" fill="#30204a"/>
<rect x="212.47" y="551.49" width="4.54" height="4.38" fill="#36186a"/>
<rect x="237.61" y="551.49" width="4.54" height="4.38" fill="#30204a"/>
<rect x="212.47" y="559.55" width="4.54" height="4.38" fill="#30204a"/>
<rect x="216.66" y="559.55" width="4.54" height="4.38" fill="#30204a"/>
<rect x="250.18" y="559.55" width="4.54" height="4.38" fill="#30204a"/>
<rect x="170.57" y="567.61" width="4.54" height="4.38" fill="#36186a"/>
<rect x="216.66" y="567.61" width="4.54" height="4.38" fill="#36186a"/>
<rect x="187.33" y="575.67" width="4.54" height="4.38" fill="#30204a"/>
<rect x="174.76" y="583.73" width="4.54" height="4.38" fill="#30204a"/>
<rect x="212.47" y="591.79" width="4.54" height="4.38" fill="#36186a"/>
<rect x="245.99" y="599.85" width="4.54" height="4.38" fill="#36186a"/>
<rect x="170.57" y="607.91" width="4.54" height="4.38" fill="#30204a"/>
<rect x="187.33" y="620.00" width="4.54" height="4.38" fill="#36186a"/>
<rect x="171.37" y="523.78" width="103.8" height="104.1" fill="none" stroke="#333333" stroke-width="1.07"/>
<text x="272.07" y="625.08" font-size="10.9" fill="#e8e8ee" text-anchor="end">0.57</text>
<rect x="284.64" y="523.28" width="104.8" height="105.1" fill="#2d1d40"/>
<rect x="322.05" y="523.28" width="4.54" height="4.38" fill="#36186a"/>
<rect x="326.24" y="523.28" width="4.54" height="4.38" fill="#7c2489"/>
<rect x="330.43" y="523.28" width="4.54" height="4.38" fill="#4a1585"/>
<rect x="322.05" y="527.31" width="4.54" height="4.38" fill="#36186a"/>
<rect x="326.24" y="527.31" width="4.54" height="4.38" fill="#5e1a8e"/>
<rect x="330.43" y="527.31" width="4.54" height="4.38" fill="#4a1585"/>
<rect x="326.24" y="531.34" width="4.54" height="4.38" fill="#7c2489"/>
<rect x="330.43" y="531.34" width="4.54" height="4.38" fill="#36186a"/>
<rect x="317.86" y="535.37" width="4.54" height="4.38" fill="#30204a"/>
<rect x="326.24" y="535.37" width="4.54" height="4.38" fill="#4a1585"/>
<rect x="330.43" y="535.37" width="4.54" height="4.38" fill="#4a1585"/>
<rect x="296.91" y="539.40" width="4.54" height="4.38" fill="#30204a"/>
<rect x="326.24" y="539.40" width="4.54" height="4.38" fill="#4a1585"/>
<rect x="330.43" y="539.40" width="4.54" height="4.38" fill="#4a1585"/>
<rect x="313.67" y="543.43" width="4.54" height="4.38" fill="#36186a"/>
<rect x="322.05" y="543.43" width="4.54" height="4.38" fill="#4a1585"/>
<rect x="326.24" y="543.43" width="4.54" height="4.38" fill="#4a1585"/>
<rect x="330.43" y="543.43" width="4.54" height="4.38" fill="#4a1585"/>
<rect x="326.24" y="547.46" width="4.54" height="4.38" fill="#4a1585"/>
<rect x="326.24" y="555.52" width="4.54" height="4.38" fill="#36186a"/>
<rect x="326.24" y="559.55" width="4.54" height="4.38" fill="#4a1585"/>
<rect x="322.05" y="563.58" width="4.54" height="4.38" fill="#36186a"/>
<rect x="326.24" y="563.58" width="4.54" height="4.38" fill="#30204a"/>
<rect x="330.43" y="563.58" width="4.54" height="4.38" fill="#36186a"/>
<rect x="326.24" y="567.61" width="4.54" height="4.38" fill="#4a1585"/>
<rect x="326.24" y="571.64" width="4.54" height="4.38" fill="#36186a"/>
<rect x="322.05" y="575.67" width="4.54" height="4.38" fill="#36186a"/>
<rect x="326.24" y="575.67" width="4.54" height="4.38" fill="#4a1585"/>
<rect x="313.67" y="583.73" width="4.54" height="4.38" fill="#36186a"/>
<rect x="326.24" y="583.73" width="4.54" height="4.38" fill="#36186a"/>
<rect x="285.14" y="523.78" width="103.8" height="104.1" fill="none" stroke="#333333" stroke-width="1.07"/>
<text x="385.84" y="625.08" font-size="10.9" fill="#e8e8ee" text-anchor="end">0.50</text>
<rect x="398.41" y="523.28" width="104.8" height="105.1" fill="#2d1d40"/>
<rect x="414.87" y="523.28" width="4.54" height="4.38" fill="#36186a"/>
<rect x="419.06" y="523.28" width="4.54" height="4.38" fill="#36186a"/>
<rect x="423.25" y="523.28" width="4.54" height="4.38" fill="#4a1585"/>
<rect x="427.44" y="523.28" width="4.54" height="4.38" fill="#4a1585"/>
<rect x="431.63" y="523.28" width="4.54" height="4.38" fill="#36186a"/>
<rect x="435.82" y="523.28" width="4.54" height="4.38" fill="#7c2489"/>
<rect x="440.01" y="523.28" width="4.54" height="4.38" fill="#f07a5e"/>
<rect x="444.20" y="523.28" width="4.54" height="4.38" fill="#9d2f84"/>
<rect x="448.39" y="523.28" width="4.54" height="4.38" fill="#4a1585"/>
<rect x="452.58" y="523.28" width="4.54" height="4.38" fill="#4a1585"/>
<rect x="410.68" y="527.31" width="4.54" height="4.38" fill="#36186a"/>
<rect x="427.44" y="527.31" width="4.54" height="4.38" fill="#4a1585"/>
<rect x="431.63" y="527.31" width="4.54" height="4.38" fill="#4a1585"/>
<rect x="435.82" y="527.31" width="4.54" height="4.38" fill="#5e1a8e"/>
<rect x="440.01" y="527.31" width="4.54" height="4.38" fill="#c23c78"/>
<rect x="444.20" y="527.31" width="4.54" height="4.38" fill="#7c2489"/>
<rect x="448.39" y="527.31" width="4.54" height="4.38" fill="#4a1585"/>
<rect x="452.58" y="527.31" width="4.54" height="4.38" fill="#36186a"/>
<rect x="456.77" y="527.31" width="4.54" height="4.38" fill="#30204a"/>
<rect x="419.06" y="531.34" width="4.54" height="4.38" fill="#36186a"/>
<rect x="423.25" y="531.34" width="4.54" height="4.38" fill="#36186a"/>
<rect x="427.44" y="531.34" width="4.54" height="4.38" fill="#4a1585"/>
<rect x="431.63" y="531.34" width="4.54" height="4.38" fill="#4a1585"/>
<rect x="435.82" y="531.34" width="4.54" height="4.38" fill="#5e1a8e"/>
<rect x="440.01" y="531.34" width="4.54" height="4.38" fill="#9d2f84"/>
<rect x="444.20" y="531.34" width="4.54" height="4.38" fill="#7c2489"/>
<rect x="448.39" y="531.34" width="4.54" height="4.38" fill="#4a1585"/>
<rect x="414.87" y="535.37" width="4.54" height="4.38" fill="#36186a"/>
<rect x="419.06" y="535.37" width="4.54" height="4.38" fill="#36186a"/>
<rect x="423.25" y="535.37" width="4.54" height="4.38" fill="#36186a"/>
<rect x="427.44" y="535.37" width="4.54" height="4.38" fill="#4a1585"/>
<rect x="431.63" y="535.37" width="4.54" height="4.38" fill="#4a1585"/>
<rect x="435.82" y="535.37" width="4.54" height="4.38" fill="#5e1a8e"/>
<rect x="440.01" y="535.37" width="4.54" height="4.38" fill="#9d2f84"/>
<rect x="444.20" y="535.37" width="4.54" height="4.38" fill="#7c2489"/>
<rect x="448.39" y="535.37" width="4.54" height="4.38" fill="#4a1585"/>
<rect x="414.87" y="539.40" width="4.54" height="4.38" fill="#36186a"/>
<rect x="423.25" y="539.40" width="4.54" height="4.38" fill="#36186a"/>
<rect x="427.44" y="539.40" width="4.54" height="4.38" fill="#4a1585"/>
<rect x="431.63" y="539.40" width="4.54" height="4.38" fill="#4a1585"/>
<rect x="435.82" y="539.40" width="4.54" height="4.38" fill="#5e1a8e"/>
<rect x="440.01" y="539.40" width="4.54" height="4.38" fill="#9d2f84"/>
<rect x="444.20" y="539.40" width="4.54" height="4.38" fill="#5e1a8e"/>
<rect x="448.39" y="539.40" width="4.54" height="4.38" fill="#4a1585"/>
<rect x="427.44" y="543.43" width="4.54" height="4.38" fill="#4a1585"/>
<rect x="431.63" y="543.43" width="4.54" height="4.38" fill="#36186a"/>
<rect x="435.82" y="543.43" width="4.54" height="4.38" fill="#5e1a8e"/>
<rect x="440.01" y="543.43" width="4.54" height="4.38" fill="#c23c78"/>
<rect x="444.20" y="543.43" width="4.54" height="4.38" fill="#7c2489"/>
<rect x="448.39" y="543.43" width="4.54" height="4.38" fill="#36186a"/>
<rect x="423.25" y="547.46" width="4.54" height="4.38" fill="#36186a"/>
<rect x="427.44" y="547.46" width="4.54" height="4.38" fill="#36186a"/>
<rect x="431.63" y="547.46" width="4.54" height="4.38" fill="#4a1585"/>
<rect x="435.82" y="547.46" width="4.54" height="4.38" fill="#5e1a8e"/>
<rect x="440.01" y="547.46" width="4.54" height="4.38" fill="#9d2f84"/>
<rect x="444.20" y="547.46" width="4.54" height="4.38" fill="#7c2489"/>
<rect x="448.39" y="547.46" width="4.54" height="4.38" fill="#36186a"/>
<rect x="460.96" y="547.46" width="4.54" height="4.38" fill="#30204a"/>
<rect x="402.30" y="551.49" width="4.54" height="4.38" fill="#36186a"/>
<rect x="427.44" y="551.49" width="4.54" height="4.38" fill="#36186a"/>
<rect x="431.63" y="551.49" width="4.54" height="4.38" fill="#36186a"/>
<rect x="435.82" y="551.49" width="4.54" height="4.38" fill="#4a1585"/>
<rect x="440.01" y="551.49" width="4.54" height="4.38" fill="#7c2489"/>
<rect x="444.20" y="551.49" width="4.54" height="4.38" fill="#7c2489"/>
<rect x="448.39" y="551.49" width="4.54" height="4.38" fill="#4a1585"/>
<rect x="452.58" y="551.49" width="4.54" height="4.38" fill="#36186a"/>
<rect x="431.63" y="555.52" width="4.54" height="4.38" fill="#4a1585"/>
<rect x="435.82" y="555.52" width="4.54" height="4.38" fill="#4a1585"/>
<rect x="440.01" y="555.52" width="4.54" height="4.38" fill="#7c2489"/>
<rect x="444.20" y="555.52" width="4.54" height="4.38" fill="#7c2489"/>
<rect x="448.39" y="555.52" width="4.54" height="4.38" fill="#4a1585"/>
<rect x="452.58" y="555.52" width="4.54" height="4.38" fill="#36186a"/>
<rect x="456.77" y="555.52" width="4.54" height="4.38" fill="#36186a"/>
<rect x="431.63" y="559.55" width="4.54" height="4.38" fill="#4a1585"/>
<rect x="435.82" y="559.55" width="4.54" height="4.38" fill="#5e1a8e"/>
<rect x="440.01" y="559.55" width="4.54" height="4.38" fill="#7c2489"/>
<rect x="444.20" y="559.55" width="4.54" height="4.38" fill="#5e1a8e"/>
<rect x="448.39" y="559.55" width="4.54" height="4.38" fill="#4a1585"/>
<rect x="431.63" y="563.58" width="4.54" height="4.38" fill="#4a1585"/>
<rect x="435.82" y="563.58" width="4.54" height="4.38" fill="#7c2489"/>
<rect x="440.01" y="563.58" width="4.54" height="4.38" fill="#7c2489"/>
<rect x="444.20" y="563.58" width="4.54" height="4.38" fill="#5e1a8e"/>
<rect x="448.39" y="563.58" width="4.54" height="4.38" fill="#4a1585"/>
<rect x="398.11" y="567.61" width="4.54" height="4.38" fill="#36186a"/>
<rect x="431.63" y="567.61" width="4.54" height="4.38" fill="#4a1585"/>
<rect x="435.82" y="567.61" width="4.54" height="4.38" fill="#4a1585"/>
<rect x="440.01" y="567.61" width="4.54" height="4.38" fill="#4a1585"/>
<rect x="444.20" y="567.61" width="4.54" height="4.38" fill="#5e1a8e"/>
<rect x="448.39" y="567.61" width="4.54" height="4.38" fill="#36186a"/>
<rect x="486.10" y="567.61" width="4.54" height="4.38" fill="#30204a"/>
<rect x="431.63" y="571.64" width="4.54" height="4.38" fill="#36186a"/>
<rect x="435.82" y="571.64" width="4.54" height="4.38" fill="#4a1585"/>
<rect x="440.01" y="571.64" width="4.54" height="4.38" fill="#5e1a8e"/>
<rect x="444.20" y="571.64" width="4.54" height="4.38" fill="#4a1585"/>
<rect x="490.29" y="571.64" width="4.54" height="4.38" fill="#36186a"/>
<rect x="398.11" y="575.67" width="4.54" height="4.38" fill="#36186a"/>
<rect x="410.68" y="575.67" width="4.54" height="4.38" fill="#30204a"/>
<rect x="435.82" y="575.67" width="4.54" height="4.38" fill="#4a1585"/>
<rect x="440.01" y="575.67" width="4.54" height="4.38" fill="#5e1a8e"/>
<rect x="444.20" y="575.67" width="4.54" height="4.38" fill="#4a1585"/>
<rect x="431.63" y="579.70" width="4.54" height="4.38" fill="#36186a"/>
<rect x="435.82" y="579.70" width="4.54" height="4.38" fill="#4a1585"/>
<rect x="440.01" y="579.70" width="4.54" height="4.38" fill="#7c2489"/>
<rect x="444.20" y="579.70" width="4.54" height="4.38" fill="#4a1585"/>
<rect x="435.82" y="583.73" width="4.54" height="4.38" fill="#36186a"/>
<rect x="440.01" y="583.73" width="4.54" height="4.38" fill="#4a1585"/>
<rect x="444.20" y="583.73" width="4.54" height="4.38" fill="#36186a"/>
<rect x="431.63" y="587.76" width="4.54" height="4.38" fill="#30204a"/>
<rect x="435.82" y="587.76" width="4.54" height="4.38" fill="#36186a"/>
<rect x="440.01" y="587.76" width="4.54" height="4.38" fill="#36186a"/>
<rect x="444.20" y="587.76" width="4.54" height="4.38" fill="#30204a"/>
<rect x="431.63" y="591.79" width="4.54" height="4.38" fill="#36186a"/>
<rect x="440.01" y="591.79" width="4.54" height="4.38" fill="#4a1585"/>
<rect x="440.01" y="595.82" width="4.54" height="4.38" fill="#4a1585"/>
<rect x="448.39" y="595.82" width="4.54" height="4.38" fill="#4a1585"/>
<rect x="444.20" y="599.85" width="4.54" height="4.38" fill="#4a1585"/>
<rect x="431.63" y="603.88" width="4.54" height="4.38" fill="#30204a"/>
<rect x="456.77" y="607.91" width="4.54" height="4.38" fill="#36186a"/>
<rect x="440.01" y="611.94" width="4.54" height="4.38" fill="#36186a"/>
<rect x="444.20" y="611.94" width="4.54" height="4.38" fill="#30204a"/>
<rect x="448.39" y="611.94" width="4.54" height="4.38" fill="#36186a"/>
<rect x="490.29" y="611.94" width="4.54" height="4.38" fill="#30204a"/>
<rect x="419.06" y="620.00" width="4.54" height="4.38" fill="#36186a"/>
<rect x="456.77" y="620.00" width="4.54" height="4.38" fill="#36186a"/>
<rect x="398.91" y="523.78" width="103.8" height="104.1" fill="none" stroke="#333333" stroke-width="1.07"/>
<text x="499.61" y="625.08" font-size="10.9" fill="#e8e8ee" text-anchor="end">0.40</text>
<rect x="512.18" y="523.28" width="104.8" height="105.1" fill="#2d1d40"/>
<rect x="520.26" y="523.28" width="4.54" height="4.38" fill="#30204a"/>
<rect x="532.83" y="523.28" width="4.54" height="4.38" fill="#4a1585"/>
<rect x="537.02" y="523.28" width="4.54" height="4.38" fill="#4a1585"/>
<rect x="541.21" y="523.28" width="4.54" height="4.38" fill="#5e1a8e"/>
<rect x="545.40" y="523.28" width="4.54" height="4.38" fill="#5e1a8e"/>
<rect x="549.59" y="523.28" width="4.54" height="4.38" fill="#f07a5e"/>
<rect x="553.78" y="523.28" width="4.54" height="4.38" fill="#f4f2bc"/>
<rect x="557.97" y="523.28" width="4.54" height="4.38" fill="#f4f2bc"/>
<rect x="562.16" y="523.28" width="4.54" height="4.38" fill="#c23c78"/>
<rect x="566.35" y="523.28" width="4.54" height="4.38" fill="#7c2489"/>
<rect x="570.54" y="523.28" width="4.54" height="4.38" fill="#4a1585"/>
<rect x="574.73" y="523.28" width="4.54" height="4.38" fill="#30204a"/>
<rect x="583.11" y="523.28" width="4.54" height="4.38" fill="#30204a"/>
<rect x="587.30" y="523.28" width="4.54" height="4.38" fill="#30204a"/>
<rect x="528.64" y="527.31" width="4.54" height="4.38" fill="#36186a"/>
<rect x="532.83" y="527.31" width="4.54" height="4.38" fill="#36186a"/>
<rect x="537.02" y="527.31" width="4.54" height="4.38" fill="#4a1585"/>
<rect x="541.21" y="527.31" width="4.54" height="4.38" fill="#4a1585"/>
<rect x="545.40" y="527.31" width="4.54" height="4.38" fill="#4a1585"/>
<rect x="549.59" y="527.31" width="4.54" height="4.38" fill="#c23c78"/>
<rect x="553.78" y="527.31" width="4.54" height="4.38" fill="#f4f2bc"/>
<rect x="557.97" y="527.31" width="4.54" height="4.38" fill="#f6c68c"/>
<rect x="562.16" y="527.31" width="4.54" height="4.38" fill="#9d2f84"/>
<rect x="566.35" y="527.31" width="4.54" height="4.38" fill="#5e1a8e"/>
<rect x="570.54" y="527.31" width="4.54" height="4.38" fill="#4a1585"/>
<rect x="574.73" y="527.31" width="4.54" height="4.38" fill="#36186a"/>
<rect x="520.26" y="531.34" width="4.54" height="4.38" fill="#30204a"/>
<rect x="537.02" y="531.34" width="4.54" height="4.38" fill="#4a1585"/>
<rect x="541.21" y="531.34" width="4.54" height="4.38" fill="#4a1585"/>
<rect x="545.40" y="531.34" width="4.54" height="4.38" fill="#5e1a8e"/>
<rect x="549.59" y="531.34" width="4.54" height="4.38" fill="#9d2f84"/>
<rect x="553.78" y="531.34" width="4.54" height="4.38" fill="#f6c68c"/>
<rect x="557.97" y="531.34" width="4.54" height="4.38" fill="#f59c6c"/>
<rect x="562.16" y="531.34" width="4.54" height="4.38" fill="#9d2f84"/>
<rect x="566.35" y="531.34" width="4.54" height="4.38" fill="#5e1a8e"/>
<rect x="570.54" y="531.34" width="4.54" height="4.38" fill="#36186a"/>
<rect x="599.87" y="531.34" width="4.54" height="4.38" fill="#36186a"/>
<rect x="520.26" y="535.37" width="4.54" height="4.38" fill="#36186a"/>
<rect x="532.83" y="535.37" width="4.54" height="4.38" fill="#36186a"/>
<rect x="537.02" y="535.37" width="4.54" height="4.38" fill="#4a1585"/>
<rect x="541.21" y="535.37" width="4.54" height="4.38" fill="#4a1585"/>
<rect x="545.40" y="535.37" width="4.54" height="4.38" fill="#4a1585"/>
<rect x="549.59" y="535.37" width="4.54" height="4.38" fill="#9d2f84"/>
<rect x="553.78" y="535.37" width="4.54" height="4.38" fill="#f6c68c"/>
<rect x="557.97" y="535.37" width="4.54" height="4.38" fill="#f59c6c"/>
<rect x="562.16" y="535.37" width="4.54" height="4.38" fill="#9d2f84"/>
<rect x="566.35" y="535.37" width="4.54" height="4.38" fill="#5e1a8e"/>
<rect x="570.54" y="535.37" width="4.54" height="4.38" fill="#4a1585"/>
<rect x="532.83" y="539.40" width="4.54" height="4.38" fill="#36186a"/>
<rect x="537.02" y="539.40" width="4.54" height="4.38" fill="#4a1585"/>
<rect x="541.21" y="539.40" width="4.54" height="4.38" fill="#4a1585"/>
<rect x="545.40" y="539.40" width="4.54" height="4.38" fill="#4a1585"/>
<rect x="549.59" y="539.40" width="4.54" height="4.38" fill="#9d2f84"/>
<rect x="553.78" y="539.40" width="4.54" height="4.38" fill="#f6c68c"/>
<rect x="557.97" y="539.40" width="4.54" height="4.38" fill="#f59c6c"/>
<rect x="562.16" y="539.40" width="4.54" height="4.38" fill="#7c2489"/>
<rect x="566.35" y="539.40" width="4.54" height="4.38" fill="#4a1585"/>
<rect x="570.54" y="539.40" width="4.54" height="4.38" fill="#4a1585"/>
<rect x="528.64" y="543.43" width="4.54" height="4.38" fill="#30204a"/>
<rect x="537.02" y="543.43" width="4.54" height="4.38" fill="#36186a"/>
<rect x="541.21" y="543.43" width="4.54" height="4.38" fill="#4a1585"/>
<rect x="545.40" y="543.43" width="4.54" height="4.38" fill="#5e1a8e"/>
<rect x="549.59" y="543.43" width="4.54" height="4.38" fill="#9d2f84"/>
<rect x="553.78" y="543.43" width="4.54" height="4.38" fill="#f59c6c"/>
<rect x="557.97" y="543.43" width="4.54" height="4.38" fill="#f07a5e"/>
<rect x="562.16" y="543.43" width="4.54" height="4.38" fill="#7c2489"/>
<rect x="566.35" y="543.43" width="4.54" height="4.38" fill="#5e1a8e"/>
<rect x="570.54" y="543.43" width="4.54" height="4.38" fill="#4a1585"/>
<rect x="516.07" y="547.46" width="4.54" height="4.38" fill="#30204a"/>
<rect x="528.64" y="547.46" width="4.54" height="4.38" fill="#36186a"/>
<rect x="532.83" y="547.46" width="4.54" height="4.38" fill="#36186a"/>
<rect x="537.02" y="547.46" width="4.54" height="4.38" fill="#36186a"/>
<rect x="541.21" y="547.46" width="4.54" height="4.38" fill="#4a1585"/>
<rect x="545.40" y="547.46" width="4.54" height="4.38" fill="#5e1a8e"/>
<rect x="549.59" y="547.46" width="4.54" height="4.38" fill="#7c2489"/>
<rect x="553.78" y="547.46" width="4.54" height="4.38" fill="#f07a5e"/>
<rect x="557.97" y="547.46" width="4.54" height="4.38" fill="#f07a5e"/>
<rect x="562.16" y="547.46" width="4.54" height="4.38" fill="#7c2489"/>
<rect x="566.35" y="547.46" width="4.54" height="4.38" fill="#5e1a8e"/>
<rect x="570.54" y="547.46" width="4.54" height="4.38" fill="#4a1585"/>
<rect x="587.30" y="547.46" width="4.54" height="4.38" fill="#36186a"/>
<rect x="528.64" y="551.49" width="4.54" height="4.38" fill="#36186a"/>
<rect x="537.02" y="551.49" width="4.54" height="4.38" fill="#36186a"/>
<rect x="541.21" y="551.49" width="4.54" height="4.38" fill="#4a1585"/>
<rect x="545.40" y="551.49" width="4.54" height="4.38" fill="#36186a"/>
<rect x="549.59" y="551.49" width="4.54" height="4.38" fill="#9d2f84"/>
<rect x="553.78" y="551.49" width="4.54" height="4.38" fill="#f07a5e"/>
<rect x="557.97" y="551.49" width="4.54" height="4.38" fill="#f07a5e"/>
<rect x="562.16" y="551.49" width="4.54" height="4.38" fill="#7c2489"/>
<rect x="566.35" y="551.49" width="4.54" height="4.38" fill="#5e1a8e"/>
<rect x="570.54" y="551.49" width="4.54" height="4.38" fill="#36186a"/>
<rect x="574.73" y="551.49" width="4.54" height="4.38" fill="#36186a"/>
<rect x="537.02" y="555.52" width="4.54" height="4.38" fill="#4a1585"/>
<rect x="541.21" y="555.52" width="4.54" height="4.38" fill="#4a1585"/>
<rect x="545.40" y="555.52" width="4.54" height="4.38" fill="#4a1585"/>
<rect x="549.59" y="555.52" width="4.54" height="4.38" fill="#7c2489"/>
<rect x="553.78" y="555.52" width="4.54" height="4.38" fill="#e05266"/>
<rect x="557.97" y="555.52" width="4.54" height="4.38" fill="#e05266"/>
<rect x="562.16" y="555.52" width="4.54" height="4.38" fill="#5e1a8e"/>
<rect x="566.35" y="555.52" width="4.54" height="4.38" fill="#5e1a8e"/>
<rect x="570.54" y="555.52" width="4.54" height="4.38" fill="#4a1585"/>
<rect x="574.73" y="555.52" width="4.54" height="4.38" fill="#36186a"/>
<rect x="532.83" y="559.55" width="4.54" height="4.38" fill="#36186a"/>
<rect x="537.02" y="559.55" width="4.54" height="4.38" fill="#36186a"/>
<rect x="541.21" y="559.55" width="4.54" height="4.38" fill="#4a1585"/>
<rect x="545.40" y="559.55" width="4.54" height="4.38" fill="#36186a"/>
<rect x="549.59" y="559.55" width="4.54" height="4.38" fill="#7c2489"/>
<rect x="553.78" y="559.55" width="4.54" height="4.38" fill="#e05266"/>
<rect x="557.97" y="559.55" width="4.54" height="4.38" fill="#c23c78"/>
<rect x="562.16" y="559.55" width="4.54" height="4.38" fill="#7c2489"/>
<rect x="566.35" y="559.55" width="4.54" height="4.38" fill="#4a1585"/>
<rect x="570.54" y="559.55" width="4.54" height="4.38" fill="#36186a"/>
<rect x="532.83" y="563.58" width="4.54" height="4.38" fill="#36186a"/>
<rect x="537.02" y="563.58" width="4.54" height="4.38" fill="#36186a"/>
<rect x="545.40" y="563.58" width="4.54" height="4.38" fill="#36186a"/>
<rect x="549.59" y="563.58" width="4.54" height="4.38" fill="#5e1a8e"/>
<rect x="553.78" y="563.58" width="4.54" height="4.38" fill="#c23c78"/>
<rect x="557.97" y="563.58" width="4.54" height="4.38" fill="#9d2f84"/>
<rect x="562.16" y="563.58" width="4.54" height="4.38" fill="#5e1a8e"/>
<rect x="566.35" y="563.58" width="4.54" height="4.38" fill="#4a1585"/>
<rect x="570.54" y="563.58" width="4.54" height="4.38" fill="#36186a"/>
<rect x="532.83" y="567.61" width="4.54" height="4.38" fill="#36186a"/>
<rect x="537.02" y="567.61" width="4.54" height="4.38" fill="#36186a"/>
<rect x="545.40" y="567.61" width="4.54" height="4.38" fill="#36186a"/>
<rect x="549.59" y="567.61" width="4.54" height="4.38" fill="#5e1a8e"/>
<rect x="553.78" y="567.61" width="4.54" height="4.38" fill="#9d2f84"/>
<rect x="557.97" y="567.61" width="4.54" height="4.38" fill="#9d2f84"/>
<rect x="562.16" y="567.61" width="4.54" height="4.38" fill="#5e1a8e"/>
<rect x="566.35" y="567.61" width="4.54" height="4.38" fill="#4a1585"/>
<rect x="570.54" y="567.61" width="4.54" height="4.38" fill="#30204a"/>
<rect x="537.02" y="571.64" width="4.54" height="4.38" fill="#36186a"/>
<rect x="541.21" y="571.64" width="4.54" height="4.38" fill="#4a1585"/>
<rect x="549.59" y="571.64" width="4.54" height="4.38" fill="#4a1585"/>
<rect x="553.78" y="571.64" width="4.54" height="4.38" fill="#9d2f84"/>
<rect x="557.97" y="571.64" width="4.54" height="4.38" fill="#7c2489"/>
<rect x="562.16" y="571.64" width="4.54" height="4.38" fill="#5e1a8e"/>
<rect x="566.35" y="571.64" width="4.54" height="4.38" fill="#4a1585"/>
<rect x="524.45" y="575.67" width="4.54" height="4.38" fill="#30204a"/>
<rect x="537.02" y="575.67" width="4.54" height="4.38" fill="#36186a"/>
<rect x="541.21" y="575.67" width="4.54" height="4.38" fill="#36186a"/>
<rect x="549.59" y="575.67" width="4.54" height="4.38" fill="#4a1585"/>
<rect x="553.78" y="575.67" width="4.54" height="4.38" fill="#7c2489"/>
<rect x="557.97" y="575.67" width="4.54" height="4.38" fill="#5e1a8e"/>
<rect x="562.16" y="575.67" width="4.54" height="4.38" fill="#4a1585"/>
<rect x="566.35" y="575.67" width="4.54" height="4.38" fill="#36186a"/>
<rect x="578.92" y="575.67" width="4.54" height="4.38" fill="#36186a"/>
<rect x="532.83" y="579.70" width="4.54" height="4.38" fill="#36186a"/>
<rect x="541.21" y="579.70" width="4.54" height="4.38" fill="#36186a"/>
<rect x="549.59" y="579.70" width="4.54" height="4.38" fill="#4a1585"/>
<rect x="553.78" y="579.70" width="4.54" height="4.38" fill="#9d2f84"/>
<rect x="557.97" y="579.70" width="4.54" height="4.38" fill="#5e1a8e"/>
<rect x="562.16" y="579.70" width="4.54" height="4.38" fill="#4a1585"/>
<rect x="566.35" y="579.70" width="4.54" height="4.38" fill="#36186a"/>
<rect x="537.02" y="583.73" width="4.54" height="4.38" fill="#36186a"/>
<rect x="549.59" y="583.73" width="4.54" height="4.38" fill="#36186a"/>
<rect x="553.78" y="583.73" width="4.54" height="4.38" fill="#5e1a8e"/>
<rect x="557.97" y="583.73" width="4.54" height="4.38" fill="#5e1a8e"/>
<rect x="562.16" y="583.73" width="4.54" height="4.38" fill="#36186a"/>
<rect x="570.54" y="583.73" width="4.54" height="4.38" fill="#30204a"/>
<rect x="532.83" y="587.76" width="4.54" height="4.38" fill="#36186a"/>
<rect x="549.59" y="587.76" width="4.54" height="4.38" fill="#36186a"/>
<rect x="553.78" y="587.76" width="4.54" height="4.38" fill="#5e1a8e"/>
<rect x="557.97" y="587.76" width="4.54" height="4.38" fill="#5e1a8e"/>
<rect x="562.16" y="587.76" width="4.54" height="4.38" fill="#36186a"/>
<rect x="549.59" y="591.79" width="4.54" height="4.38" fill="#36186a"/>
<rect x="553.78" y="591.79" width="4.54" height="4.38" fill="#4a1585"/>
<rect x="557.97" y="591.79" width="4.54" height="4.38" fill="#4a1585"/>
<rect x="562.16" y="591.79" width="4.54" height="4.38" fill="#36186a"/>
<rect x="541.21" y="595.82" width="4.54" height="4.38" fill="#30204a"/>
<rect x="553.78" y="595.82" width="4.54" height="4.38" fill="#4a1585"/>
<rect x="557.97" y="595.82" width="4.54" height="4.38" fill="#4a1585"/>
<rect x="562.16" y="595.82" width="4.54" height="4.38" fill="#30204a"/>
<rect x="549.59" y="599.85" width="4.54" height="4.38" fill="#30204a"/>
<rect x="553.78" y="599.85" width="4.54" height="4.38" fill="#4a1585"/>
<rect x="557.97" y="599.85" width="4.54" height="4.38" fill="#4a1585"/>
<rect x="553.78" y="603.88" width="4.54" height="4.38" fill="#4a1585"/>
<rect x="557.97" y="603.88" width="4.54" height="4.38" fill="#4a1585"/>
<rect x="553.78" y="607.91" width="4.54" height="4.38" fill="#36186a"/>
<rect x="557.97" y="607.91" width="4.54" height="4.38" fill="#36186a"/>
<rect x="512.68" y="523.78" width="103.8" height="104.1" fill="none" stroke="#333333" stroke-width="1.07"/>
<text x="613.38" y="625.08" font-size="10.9" fill="#e8e8ee" text-anchor="end">0.18</text>
<line x1="52.9" y1="171.50" x2="57.6" y2="171.50" stroke="#333333" stroke-width="1.1"/>
<text x="49.3" y="176.10" font-size="13.6" fill="#2b3441" text-anchor="end">0.00</text>
<line x1="52.9" y1="146.50" x2="57.6" y2="146.50" stroke="#333333" stroke-width="1.1"/>
<text x="49.3" y="150.83" font-size="13.6" fill="#2b3441" text-anchor="end">0.25</text>
<line x1="52.9" y1="120.50" x2="57.6" y2="120.50" stroke="#333333" stroke-width="1.1"/>
<text x="49.3" y="125.55" font-size="13.6" fill="#2b3441" text-anchor="end">0.50</text>
<line x1="52.9" y1="95.50" x2="57.6" y2="95.50" stroke="#333333" stroke-width="1.1"/>
<text x="49.3" y="100.28" font-size="13.6" fill="#2b3441" text-anchor="end">0.75</text>
<line x1="52.9" y1="70.50" x2="57.6" y2="70.50" stroke="#333333" stroke-width="1.1"/>
<text x="49.3" y="75.00" font-size="13.6" fill="#2b3441" text-anchor="end">1.00</text>
<line x1="52.9" y1="285.50" x2="57.6" y2="285.50" stroke="#333333" stroke-width="1.1"/>
<text x="49.3" y="289.87" font-size="13.6" fill="#2b3441" text-anchor="end">0.00</text>
<line x1="52.9" y1="259.50" x2="57.6" y2="259.50" stroke="#333333" stroke-width="1.1"/>
<text x="49.3" y="264.60" font-size="13.6" fill="#2b3441" text-anchor="end">0.25</text>
<line x1="52.9" y1="234.50" x2="57.6" y2="234.50" stroke="#333333" stroke-width="1.1"/>
<text x="49.3" y="239.32" font-size="13.6" fill="#2b3441" text-anchor="end">0.50</text>
<line x1="52.9" y1="209.50" x2="57.6" y2="209.50" stroke="#333333" stroke-width="1.1"/>
<text x="49.3" y="214.05" font-size="13.6" fill="#2b3441" text-anchor="end">0.75</text>
<line x1="52.9" y1="183.50" x2="57.6" y2="183.50" stroke="#333333" stroke-width="1.1"/>
<text x="49.3" y="188.77" font-size="13.6" fill="#2b3441" text-anchor="end">1.00</text>
<line x1="52.9" y1="398.50" x2="57.6" y2="398.50" stroke="#333333" stroke-width="1.1"/>
<text x="49.3" y="403.64" font-size="13.6" fill="#2b3441" text-anchor="end">0.00</text>
<line x1="52.9" y1="373.50" x2="57.6" y2="373.50" stroke="#333333" stroke-width="1.1"/>
<text x="49.3" y="378.37" font-size="13.6" fill="#2b3441" text-anchor="end">0.25</text>
<line x1="52.9" y1="348.50" x2="57.6" y2="348.50" stroke="#333333" stroke-width="1.1"/>
<text x="49.3" y="353.09" font-size="13.6" fill="#2b3441" text-anchor="end">0.50</text>
<line x1="52.9" y1="323.50" x2="57.6" y2="323.50" stroke="#333333" stroke-width="1.1"/>
<text x="49.3" y="327.82" font-size="13.6" fill="#2b3441" text-anchor="end">0.75</text>
<line x1="52.9" y1="297.50" x2="57.6" y2="297.50" stroke="#333333" stroke-width="1.1"/>
<text x="49.3" y="302.54" font-size="13.6" fill="#2b3441" text-anchor="end">1.00</text>
<line x1="52.9" y1="512.50" x2="57.6" y2="512.50" stroke="#333333" stroke-width="1.1"/>
<text x="49.3" y="517.41" font-size="13.6" fill="#2b3441" text-anchor="end">0.00</text>
<line x1="52.9" y1="487.50" x2="57.6" y2="487.50" stroke="#333333" stroke-width="1.1"/>
<text x="49.3" y="492.14" font-size="13.6" fill="#2b3441" text-anchor="end">0.25</text>
<line x1="52.9" y1="462.50" x2="57.6" y2="462.50" stroke="#333333" stroke-width="1.1"/>
<text x="49.3" y="466.86" font-size="13.6" fill="#2b3441" text-anchor="end">0.50</text>
<line x1="52.9" y1="436.50" x2="57.6" y2="436.50" stroke="#333333" stroke-width="1.1"/>
<text x="49.3" y="441.59" font-size="13.6" fill="#2b3441" text-anchor="end">0.75</text>
<line x1="52.9" y1="411.50" x2="57.6" y2="411.50" stroke="#333333" stroke-width="1.1"/>
<text x="49.3" y="416.31" font-size="13.6" fill="#2b3441" text-anchor="end">1.00</text>
<line x1="52.9" y1="626.50" x2="57.6" y2="626.50" stroke="#333333" stroke-width="1.1"/>
<text x="49.3" y="631.18" font-size="13.6" fill="#2b3441" text-anchor="end">0.00</text>
<line x1="52.9" y1="601.50" x2="57.6" y2="601.50" stroke="#333333" stroke-width="1.1"/>
<text x="49.3" y="605.90" font-size="13.6" fill="#2b3441" text-anchor="end">0.25</text>
<line x1="52.9" y1="575.50" x2="57.6" y2="575.50" stroke="#333333" stroke-width="1.1"/>
<text x="49.3" y="580.63" font-size="13.6" fill="#2b3441" text-anchor="end">0.50</text>
<line x1="52.9" y1="550.50" x2="57.6" y2="550.50" stroke="#333333" stroke-width="1.1"/>
<text x="49.3" y="555.36" font-size="13.6" fill="#2b3441" text-anchor="end">0.75</text>
<line x1="52.9" y1="525.50" x2="57.6" y2="525.50" stroke="#333333" stroke-width="1.1"/>
<text x="49.3" y="530.08" font-size="13.6" fill="#2b3441" text-anchor="end">1.00</text>
<line x1="81.50" y1="627.88" x2="81.50" y2="632.68" stroke="#333333" stroke-width="1.1"/>
<text x="81.35" y="647.3" font-size="13.6" fill="#2b3441" text-anchor="middle">-200</text>
<line x1="109.50" y1="627.88" x2="109.50" y2="632.68" stroke="#333333" stroke-width="1.1"/>
<text x="109.50" y="647.3" font-size="13.6" fill="#2b3441" text-anchor="middle">0</text>
<line x1="137.50" y1="627.88" x2="137.50" y2="632.68" stroke="#333333" stroke-width="1.1"/>
<text x="137.65" y="647.3" font-size="13.6" fill="#2b3441" text-anchor="middle">200</text>
<line x1="195.50" y1="627.88" x2="195.50" y2="632.68" stroke="#333333" stroke-width="1.1"/>
<text x="195.12" y="647.3" font-size="13.6" fill="#2b3441" text-anchor="middle">-200</text>
<line x1="223.50" y1="627.88" x2="223.50" y2="632.68" stroke="#333333" stroke-width="1.1"/>
<text x="223.27" y="647.3" font-size="13.6" fill="#2b3441" text-anchor="middle">0</text>
<line x1="251.50" y1="627.88" x2="251.50" y2="632.68" stroke="#333333" stroke-width="1.1"/>
<text x="251.42" y="647.3" font-size="13.6" fill="#2b3441" text-anchor="middle">200</text>
<line x1="308.50" y1="627.88" x2="308.50" y2="632.68" stroke="#333333" stroke-width="1.1"/>
<text x="308.89" y="647.3" font-size="13.6" fill="#2b3441" text-anchor="middle">-200</text>
<line x1="337.50" y1="627.88" x2="337.50" y2="632.68" stroke="#333333" stroke-width="1.1"/>
<text x="337.04" y="647.3" font-size="13.6" fill="#2b3441" text-anchor="middle">0</text>
<line x1="365.50" y1="627.88" x2="365.50" y2="632.68" stroke="#333333" stroke-width="1.1"/>
<text x="365.19" y="647.3" font-size="13.6" fill="#2b3441" text-anchor="middle">200</text>
<line x1="422.50" y1="627.88" x2="422.50" y2="632.68" stroke="#333333" stroke-width="1.1"/>
<text x="422.66" y="647.3" font-size="13.6" fill="#2b3441" text-anchor="middle">-200</text>
<line x1="450.50" y1="627.88" x2="450.50" y2="632.68" stroke="#333333" stroke-width="1.1"/>
<text x="450.81" y="647.3" font-size="13.6" fill="#2b3441" text-anchor="middle">0</text>
<line x1="478.50" y1="627.88" x2="478.50" y2="632.68" stroke="#333333" stroke-width="1.1"/>
<text x="478.96" y="647.3" font-size="13.6" fill="#2b3441" text-anchor="middle">200</text>
<line x1="536.50" y1="627.88" x2="536.50" y2="632.68" stroke="#333333" stroke-width="1.1"/>
<text x="536.43" y="647.3" font-size="13.6" fill="#2b3441" text-anchor="middle">-200</text>
<line x1="564.50" y1="627.88" x2="564.50" y2="632.68" stroke="#333333" stroke-width="1.1"/>
<text x="564.58" y="647.3" font-size="13.6" fill="#2b3441" text-anchor="middle">0</text>
<line x1="592.50" y1="627.88" x2="592.50" y2="632.68" stroke="#333333" stroke-width="1.1"/>
<text x="592.73" y="647.3" font-size="13.6" fill="#2b3441" text-anchor="middle">200</text>
<text x="337" y="669.1" font-size="16.9" fill="#2b3441" text-anchor="middle">Vaccine program start (days from exposure event)</text>
<text x="14.1" y="348.4" font-size="16.9" fill="#2b3441" text-anchor="middle" transform="rotate(-90 14.1 348.4)">Vaccine program uptake (%)</text>
<defs><linearGradient id="lg" x1="0" y1="0" x2="1" y2="0">
<stop offset="0.0000" stop-color="#e2f6e4"/>
<stop offset="0.0352" stop-color="#cef1d5"/>
<stop offset="0.0682" stop-color="#b6ebc5"/>
<stop offset="0.1078" stop-color="#9de5bb"/>
<stop offset="0.1562" stop-color="#7ddcb5"/>
<stop offset="0.2002" stop-color="#6fd0b0"/>
<stop offset="0.2871" stop-color="#58aaa8"/>
<stop offset="0.3762" stop-color="#4a8ea5"/>
<stop offset="0.4642" stop-color="#455d9a"/>
<stop offset="0.5303" stop-color="#3e3f78"/>
<stop offset="0.5963" stop-color="#33264e"/>
<stop offset="0.6425" stop-color="#2d1d3f"/>
<stop offset="0.6689" stop-color="#2d1b42"/>
<stop offset="0.6843" stop-color="#3a1065"/>
<stop offset="0.7019" stop-color="#461080"/>
<stop offset="0.7283" stop-color="#55158a"/>
<stop offset="0.7723" stop-color="#8a2a88"/>
<stop offset="0.8207" stop-color="#c03a7a"/>
<stop offset="0.8603" stop-color="#e04c64"/>
<stop offset="0.9043" stop-color="#ec6a5c"/>
<stop offset="0.9483" stop-color="#eea070"/>
<stop offset="0.9813" stop-color="#f0d8a0"/>
<stop offset="1.0000" stop-color="#f0f5c0"/>
</linearGradient></defs>
<rect x="109" y="694" width="454.5" height="26" rx="13" ry="13" fill="url(#lg)"/>
<line x1="158.40" y1="694" x2="158.40" y2="699" stroke="#fff" stroke-width="1.07"/>
<line x1="158.40" y1="715" x2="158.40" y2="720" stroke="#fff" stroke-width="1.07"/>
<text x="158.40" y="734.6" font-size="13.6" fill="#2b3441" text-anchor="middle">-0.15</text>
<line x1="239.40" y1="694" x2="239.40" y2="699" stroke="#fff" stroke-width="1.07"/>
<line x1="239.40" y1="715" x2="239.40" y2="720" stroke="#fff" stroke-width="1.07"/>
<text x="239.40" y="734.6" font-size="13.6" fill="#2b3441" text-anchor="middle">-0.10</text>
<line x1="320.40" y1="694" x2="320.40" y2="699" stroke="#fff" stroke-width="1.07"/>
<line x1="320.40" y1="715" x2="320.40" y2="720" stroke="#fff" stroke-width="1.07"/>
<text x="320.40" y="734.6" font-size="13.6" fill="#2b3441" text-anchor="middle">-0.05</text>
<line x1="401.40" y1="694" x2="401.40" y2="699" stroke="#fff" stroke-width="1.07"/>
<line x1="401.40" y1="715" x2="401.40" y2="720" stroke="#fff" stroke-width="1.07"/>
<text x="401.40" y="734.6" font-size="13.6" fill="#2b3441" text-anchor="middle">0.00</text>
<line x1="482.40" y1="694" x2="482.40" y2="699" stroke="#fff" stroke-width="1.07"/>
<line x1="482.40" y1="715" x2="482.40" y2="720" stroke="#fff" stroke-width="1.07"/>
<text x="482.40" y="734.6" font-size="13.6" fill="#2b3441" text-anchor="middle">0.05</text>
<line x1="563.40" y1="694" x2="563.40" y2="699" stroke="#fff" stroke-width="1.07"/>
<line x1="563.40" y1="715" x2="563.40" y2="720" stroke="#fff" stroke-width="1.07"/>
<text x="563.40" y="734.6" font-size="13.6" fill="#2b3441" text-anchor="middle">0.10</text>
<text x="337" y="757.5" font-size="16.9" fill="#2b3441" text-anchor="middle">Change in Emergence Probability</text>
</svg></body></html>
